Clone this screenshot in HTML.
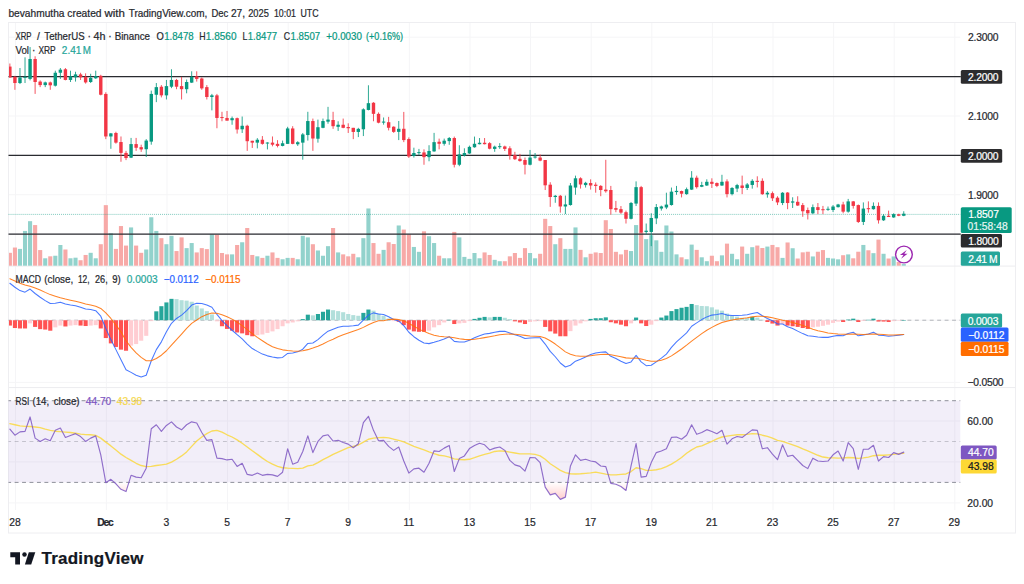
<!DOCTYPE html><html><head><meta charset="utf-8"><title>XRP chart</title><style>html,body{margin:0;padding:0;background:#fff;}body{width:1024px;height:584px;position:relative;overflow:hidden;font-family:"Liberation Sans",sans-serif;}</style></head><body><svg width="1024" height="584" viewBox="0 0 1024 584" style="position:absolute;left:0;top:0" font-family="Liberation Sans, sans-serif">
<rect x="0" y="0" width="1024" height="584" fill="#ffffff"/>
<g stroke="#f5f5f7" stroke-width="1"><line x1="15.47" y1="22.5" x2="15.47" y2="510"/><line x1="106.37" y1="22.5" x2="106.37" y2="510"/><line x1="166.98" y1="22.5" x2="166.98" y2="510"/><line x1="227.58" y1="22.5" x2="227.58" y2="510"/><line x1="288.18" y1="22.5" x2="288.18" y2="510"/><line x1="348.78" y1="22.5" x2="348.78" y2="510"/><line x1="409.39" y1="22.5" x2="409.39" y2="510"/><line x1="469.99" y1="22.5" x2="469.99" y2="510"/><line x1="530.59" y1="22.5" x2="530.59" y2="510"/><line x1="591.19" y1="22.5" x2="591.19" y2="510"/><line x1="651.80" y1="22.5" x2="651.80" y2="510"/><line x1="712.40" y1="22.5" x2="712.40" y2="510"/><line x1="773.00" y1="22.5" x2="773.00" y2="510"/><line x1="833.60" y1="22.5" x2="833.60" y2="510"/><line x1="894.21" y1="22.5" x2="894.21" y2="510"/><line x1="954.81" y1="22.5" x2="954.81" y2="510"/><line x1="8.5" y1="37.23" x2="960.3" y2="37.23"/><line x1="8.5" y1="76.60" x2="960.3" y2="76.60"/><line x1="8.5" y1="115.98" x2="960.3" y2="115.98"/><line x1="8.5" y1="155.35" x2="960.3" y2="155.35"/><line x1="8.5" y1="194.73" x2="960.3" y2="194.73"/><line x1="8.5" y1="234.10" x2="960.3" y2="234.10"/><line x1="8.5" y1="320.2" x2="960.3" y2="320.2"/><line x1="8.5" y1="382.4" x2="960.3" y2="382.4"/><line x1="8.5" y1="421.0" x2="960.3" y2="421.0"/><line x1="8.5" y1="461.9" x2="960.3" y2="461.9"/><line x1="8.5" y1="502.9" x2="960.3" y2="502.9"/></g>
<g stroke="#ececef" stroke-width="1"><line x1="8.5" y1="266.1" x2="1015.5" y2="266.1"/><line x1="8.5" y1="387.6" x2="1015.5" y2="387.6"/></g>
<rect x="8.5" y="22.5" width="1007.0" height="510.5" fill="none" stroke="#eeeef1" stroke-width="1"/>
<rect x="8.5" y="400.7" width="951.8" height="81.69999999999999" fill="#7e57c2" fill-opacity="0.1"/>
<g stroke="#787b86" stroke-width="1" stroke-dasharray="3.9 3.54" stroke-dashoffset="1.3" opacity="0.82"><line x1="8.5" y1="400.7" x2="960.3" y2="400.7"/><line x1="8.5" y1="482.4" x2="960.3" y2="482.4"/></g>
<line x1="8.5" y1="441.5" x2="960.3" y2="441.5" stroke="#787b86" stroke-opacity="0.38" stroke-width="1" stroke-dasharray="3.9 3.54" stroke-dashoffset="1.3"/>
<defs><clipPath id="plot"><rect x="9" y="22" width="951.3" height="490"/></clipPath></defs>
<g clip-path="url(#plot)"><rect x="7.82" y="252.81" width="4.1" height="12.89" fill="#f7a9a7"/><rect x="12.87" y="247.54" width="4.1" height="18.16" fill="#f7a9a7"/><rect x="17.92" y="248.90" width="4.1" height="16.80" fill="#92d2cc"/><rect x="22.97" y="230.93" width="4.1" height="34.77" fill="#92d2cc"/><rect x="28.02" y="221.17" width="4.1" height="44.53" fill="#92d2cc"/><rect x="33.07" y="225.07" width="4.1" height="40.62" fill="#f7a9a7"/><rect x="38.12" y="250.07" width="4.1" height="15.62" fill="#f7a9a7"/><rect x="43.17" y="258.28" width="4.1" height="7.42" fill="#92d2cc"/><rect x="48.22" y="256.32" width="4.1" height="9.38" fill="#f7a9a7"/><rect x="53.27" y="255.74" width="4.1" height="9.96" fill="#92d2cc"/><rect x="58.32" y="245.00" width="4.1" height="20.70" fill="#92d2cc"/><rect x="63.37" y="249.49" width="4.1" height="16.21" fill="#f7a9a7"/><rect x="68.42" y="258.28" width="4.1" height="7.42" fill="#92d2cc"/><rect x="73.47" y="257.69" width="4.1" height="8.01" fill="#92d2cc"/><rect x="78.52" y="260.23" width="4.1" height="5.47" fill="#f7a9a7"/><rect x="83.57" y="254.96" width="4.1" height="10.74" fill="#f7a9a7"/><rect x="88.62" y="252.81" width="4.1" height="12.89" fill="#92d2cc"/><rect x="93.67" y="258.28" width="4.1" height="7.42" fill="#92d2cc"/><rect x="98.72" y="244.22" width="4.1" height="21.48" fill="#f7a9a7"/><rect x="103.77" y="205.15" width="4.1" height="60.55" fill="#f7a9a7"/><rect x="108.82" y="233.28" width="4.1" height="32.42" fill="#92d2cc"/><rect x="113.87" y="248.90" width="4.1" height="16.80" fill="#f7a9a7"/><rect x="118.92" y="226.05" width="4.1" height="39.65" fill="#f7a9a7"/><rect x="123.97" y="245.58" width="4.1" height="20.12" fill="#f7a9a7"/><rect x="129.02" y="227.42" width="4.1" height="38.28" fill="#92d2cc"/><rect x="134.07" y="245.58" width="4.1" height="20.12" fill="#f7a9a7"/><rect x="139.13" y="252.81" width="4.1" height="12.89" fill="#f7a9a7"/><rect x="144.18" y="249.49" width="4.1" height="16.21" fill="#92d2cc"/><rect x="149.23" y="217.26" width="4.1" height="48.44" fill="#92d2cc"/><rect x="154.28" y="230.93" width="4.1" height="34.77" fill="#92d2cc"/><rect x="159.33" y="238.16" width="4.1" height="27.54" fill="#f7a9a7"/><rect x="164.38" y="244.22" width="4.1" height="21.48" fill="#92d2cc"/><rect x="169.43" y="235.82" width="4.1" height="29.88" fill="#92d2cc"/><rect x="174.48" y="251.05" width="4.1" height="14.65" fill="#f7a9a7"/><rect x="179.53" y="237.38" width="4.1" height="28.32" fill="#f7a9a7"/><rect x="184.58" y="248.12" width="4.1" height="17.58" fill="#92d2cc"/><rect x="189.63" y="243.04" width="4.1" height="22.66" fill="#92d2cc"/><rect x="194.68" y="252.42" width="4.1" height="13.28" fill="#f7a9a7"/><rect x="199.73" y="248.12" width="4.1" height="17.58" fill="#f7a9a7"/><rect x="204.78" y="249.10" width="4.1" height="16.60" fill="#f7a9a7"/><rect x="209.83" y="234.45" width="4.1" height="31.25" fill="#92d2cc"/><rect x="214.88" y="234.84" width="4.1" height="30.86" fill="#f7a9a7"/><rect x="219.93" y="253.00" width="4.1" height="12.70" fill="#f7a9a7"/><rect x="224.98" y="254.37" width="4.1" height="11.33" fill="#f7a9a7"/><rect x="230.03" y="254.37" width="4.1" height="11.33" fill="#92d2cc"/><rect x="235.08" y="245.00" width="4.1" height="20.70" fill="#f7a9a7"/><rect x="240.13" y="242.26" width="4.1" height="23.44" fill="#92d2cc"/><rect x="245.18" y="228.00" width="4.1" height="37.70" fill="#f7a9a7"/><rect x="250.23" y="254.96" width="4.1" height="10.74" fill="#f7a9a7"/><rect x="255.28" y="256.32" width="4.1" height="9.38" fill="#92d2cc"/><rect x="260.33" y="257.89" width="4.1" height="7.81" fill="#f7a9a7"/><rect x="265.38" y="255.74" width="4.1" height="9.96" fill="#92d2cc"/><rect x="270.43" y="252.42" width="4.1" height="13.28" fill="#f7a9a7"/><rect x="275.48" y="257.89" width="4.1" height="7.81" fill="#f7a9a7"/><rect x="280.53" y="259.25" width="4.1" height="6.45" fill="#92d2cc"/><rect x="285.58" y="257.89" width="4.1" height="7.81" fill="#92d2cc"/><rect x="290.63" y="257.89" width="4.1" height="7.81" fill="#f7a9a7"/><rect x="295.68" y="259.25" width="4.1" height="6.45" fill="#92d2cc"/><rect x="300.73" y="235.82" width="4.1" height="29.88" fill="#92d2cc"/><rect x="305.78" y="237.38" width="4.1" height="28.32" fill="#92d2cc"/><rect x="310.83" y="244.22" width="4.1" height="21.48" fill="#f7a9a7"/><rect x="315.88" y="250.47" width="4.1" height="15.23" fill="#92d2cc"/><rect x="320.93" y="255.74" width="4.1" height="9.96" fill="#92d2cc"/><rect x="325.98" y="246.17" width="4.1" height="19.53" fill="#92d2cc"/><rect x="331.03" y="228.00" width="4.1" height="37.70" fill="#f7a9a7"/><rect x="336.08" y="252.42" width="4.1" height="13.28" fill="#92d2cc"/><rect x="341.13" y="254.37" width="4.1" height="11.33" fill="#f7a9a7"/><rect x="346.18" y="256.32" width="4.1" height="9.38" fill="#f7a9a7"/><rect x="351.23" y="253.79" width="4.1" height="11.91" fill="#f7a9a7"/><rect x="356.28" y="257.30" width="4.1" height="8.40" fill="#92d2cc"/><rect x="361.33" y="238.16" width="4.1" height="27.54" fill="#92d2cc"/><rect x="366.38" y="208.47" width="4.1" height="57.23" fill="#92d2cc"/><rect x="371.43" y="243.04" width="4.1" height="22.66" fill="#f7a9a7"/><rect x="376.48" y="253.79" width="4.1" height="11.91" fill="#f7a9a7"/><rect x="381.53" y="249.88" width="4.1" height="15.82" fill="#92d2cc"/><rect x="386.59" y="242.26" width="4.1" height="23.44" fill="#f7a9a7"/><rect x="391.64" y="244.02" width="4.1" height="21.68" fill="#f7a9a7"/><rect x="396.69" y="225.47" width="4.1" height="40.23" fill="#92d2cc"/><rect x="401.74" y="229.57" width="4.1" height="36.13" fill="#f7a9a7"/><rect x="406.79" y="234.45" width="4.1" height="31.25" fill="#f7a9a7"/><rect x="411.84" y="246.95" width="4.1" height="18.75" fill="#92d2cc"/><rect x="416.89" y="251.83" width="4.1" height="13.87" fill="#92d2cc"/><rect x="421.94" y="231.32" width="4.1" height="34.38" fill="#f7a9a7"/><rect x="426.99" y="236.21" width="4.1" height="29.49" fill="#92d2cc"/><rect x="432.04" y="243.04" width="4.1" height="22.66" fill="#92d2cc"/><rect x="437.09" y="255.74" width="4.1" height="9.96" fill="#f7a9a7"/><rect x="442.14" y="258.28" width="4.1" height="7.42" fill="#92d2cc"/><rect x="447.19" y="258.28" width="4.1" height="7.42" fill="#92d2cc"/><rect x="452.24" y="231.91" width="4.1" height="33.79" fill="#f7a9a7"/><rect x="457.29" y="237.38" width="4.1" height="28.32" fill="#92d2cc"/><rect x="462.34" y="256.91" width="4.1" height="8.79" fill="#92d2cc"/><rect x="467.39" y="258.86" width="4.1" height="6.84" fill="#92d2cc"/><rect x="472.44" y="253.00" width="4.1" height="12.70" fill="#92d2cc"/><rect x="477.49" y="258.28" width="4.1" height="7.42" fill="#92d2cc"/><rect x="482.54" y="252.42" width="4.1" height="13.28" fill="#f7a9a7"/><rect x="487.59" y="254.96" width="4.1" height="10.74" fill="#f7a9a7"/><rect x="492.64" y="259.84" width="4.1" height="5.86" fill="#92d2cc"/><rect x="497.69" y="261.21" width="4.1" height="4.49" fill="#92d2cc"/><rect x="502.74" y="261.21" width="4.1" height="4.49" fill="#f7a9a7"/><rect x="507.79" y="256.32" width="4.1" height="9.38" fill="#f7a9a7"/><rect x="512.84" y="253.00" width="4.1" height="12.70" fill="#f7a9a7"/><rect x="517.89" y="257.89" width="4.1" height="7.81" fill="#f7a9a7"/><rect x="522.94" y="248.12" width="4.1" height="17.58" fill="#f7a9a7"/><rect x="527.99" y="253.00" width="4.1" height="12.70" fill="#92d2cc"/><rect x="533.04" y="258.28" width="4.1" height="7.42" fill="#92d2cc"/><rect x="538.09" y="253.79" width="4.1" height="11.91" fill="#f7a9a7"/><rect x="543.14" y="218.82" width="4.1" height="46.88" fill="#f7a9a7"/><rect x="548.19" y="226.05" width="4.1" height="39.65" fill="#f7a9a7"/><rect x="553.24" y="244.22" width="4.1" height="21.48" fill="#92d2cc"/><rect x="558.29" y="238.16" width="4.1" height="27.54" fill="#f7a9a7"/><rect x="563.34" y="248.90" width="4.1" height="16.80" fill="#92d2cc"/><rect x="568.39" y="248.90" width="4.1" height="16.80" fill="#92d2cc"/><rect x="573.44" y="227.42" width="4.1" height="38.28" fill="#92d2cc"/><rect x="578.49" y="249.88" width="4.1" height="15.82" fill="#f7a9a7"/><rect x="583.54" y="257.30" width="4.1" height="8.40" fill="#92d2cc"/><rect x="588.59" y="253.79" width="4.1" height="11.91" fill="#f7a9a7"/><rect x="593.64" y="252.42" width="4.1" height="13.28" fill="#f7a9a7"/><rect x="598.69" y="253.00" width="4.1" height="12.70" fill="#f7a9a7"/><rect x="603.74" y="220.19" width="4.1" height="45.51" fill="#f7a9a7"/><rect x="608.79" y="228.98" width="4.1" height="36.72" fill="#f7a9a7"/><rect x="613.84" y="251.83" width="4.1" height="13.87" fill="#f7a9a7"/><rect x="618.89" y="254.37" width="4.1" height="11.33" fill="#f7a9a7"/><rect x="623.94" y="249.88" width="4.1" height="15.82" fill="#f7a9a7"/><rect x="628.99" y="251.05" width="4.1" height="14.65" fill="#92d2cc"/><rect x="634.04" y="225.07" width="4.1" height="40.62" fill="#92d2cc"/><rect x="639.10" y="231.91" width="4.1" height="33.79" fill="#f7a9a7"/><rect x="644.15" y="239.14" width="4.1" height="26.56" fill="#92d2cc"/><rect x="649.20" y="235.23" width="4.1" height="30.47" fill="#92d2cc"/><rect x="654.25" y="240.31" width="4.1" height="25.39" fill="#92d2cc"/><rect x="659.30" y="251.83" width="4.1" height="13.87" fill="#92d2cc"/><rect x="664.35" y="225.47" width="4.1" height="40.23" fill="#92d2cc"/><rect x="669.40" y="231.52" width="4.1" height="34.18" fill="#92d2cc"/><rect x="674.45" y="254.37" width="4.1" height="11.33" fill="#92d2cc"/><rect x="679.50" y="257.30" width="4.1" height="8.40" fill="#f7a9a7"/><rect x="684.55" y="259.25" width="4.1" height="6.45" fill="#92d2cc"/><rect x="689.60" y="244.61" width="4.1" height="21.09" fill="#92d2cc"/><rect x="694.65" y="249.88" width="4.1" height="15.82" fill="#f7a9a7"/><rect x="699.70" y="257.30" width="4.1" height="8.40" fill="#92d2cc"/><rect x="704.75" y="261.21" width="4.1" height="4.49" fill="#92d2cc"/><rect x="709.80" y="255.74" width="4.1" height="9.96" fill="#f7a9a7"/><rect x="714.85" y="261.21" width="4.1" height="4.49" fill="#f7a9a7"/><rect x="719.90" y="255.35" width="4.1" height="10.35" fill="#92d2cc"/><rect x="724.95" y="243.63" width="4.1" height="22.07" fill="#f7a9a7"/><rect x="730.00" y="253.79" width="4.1" height="11.91" fill="#92d2cc"/><rect x="735.05" y="259.25" width="4.1" height="6.45" fill="#92d2cc"/><rect x="740.10" y="246.56" width="4.1" height="19.14" fill="#f7a9a7"/><rect x="745.15" y="253.79" width="4.1" height="11.91" fill="#92d2cc"/><rect x="750.20" y="247.20" width="4.1" height="18.50" fill="#92d2cc"/><rect x="755.25" y="245.56" width="4.1" height="20.14" fill="#f7a9a7"/><rect x="760.30" y="248.02" width="4.1" height="17.68" fill="#f7a9a7"/><rect x="765.35" y="246.58" width="4.1" height="19.12" fill="#92d2cc"/><rect x="770.40" y="244.94" width="4.1" height="20.76" fill="#f7a9a7"/><rect x="775.45" y="247.20" width="4.1" height="18.50" fill="#f7a9a7"/><rect x="780.50" y="257.89" width="4.1" height="7.81" fill="#92d2cc"/><rect x="785.55" y="242.47" width="4.1" height="23.23" fill="#f7a9a7"/><rect x="790.60" y="248.23" width="4.1" height="17.47" fill="#92d2cc"/><rect x="795.65" y="258.51" width="4.1" height="7.19" fill="#f7a9a7"/><rect x="800.70" y="252.34" width="4.1" height="13.36" fill="#f7a9a7"/><rect x="805.75" y="251.72" width="4.1" height="13.98" fill="#f7a9a7"/><rect x="810.80" y="256.45" width="4.1" height="9.25" fill="#92d2cc"/><rect x="815.85" y="251.72" width="4.1" height="13.98" fill="#f7a9a7"/><rect x="820.90" y="250.08" width="4.1" height="15.62" fill="#f7a9a7"/><rect x="825.95" y="257.89" width="4.1" height="7.81" fill="#92d2cc"/><rect x="831.00" y="258.51" width="4.1" height="7.19" fill="#92d2cc"/><rect x="836.05" y="259.33" width="4.1" height="6.37" fill="#92d2cc"/><rect x="841.10" y="255.22" width="4.1" height="10.48" fill="#f7a9a7"/><rect x="846.15" y="254.39" width="4.1" height="11.31" fill="#92d2cc"/><rect x="851.20" y="258.30" width="4.1" height="7.40" fill="#f7a9a7"/><rect x="856.25" y="251.72" width="4.1" height="13.98" fill="#f7a9a7"/><rect x="861.30" y="244.94" width="4.1" height="20.76" fill="#92d2cc"/><rect x="866.35" y="250.28" width="4.1" height="15.42" fill="#f7a9a7"/><rect x="871.40" y="253.16" width="4.1" height="12.54" fill="#92d2cc"/><rect x="876.45" y="239.60" width="4.1" height="26.10" fill="#f7a9a7"/><rect x="881.50" y="253.78" width="4.1" height="11.92" fill="#92d2cc"/><rect x="886.55" y="258.51" width="4.1" height="7.19" fill="#f7a9a7"/><rect x="891.61" y="256.45" width="4.1" height="9.25" fill="#92d2cc"/><rect x="896.66" y="262.00" width="4.1" height="3.70" fill="#f7a9a7"/><rect x="901.71" y="264.06" width="4.1" height="1.64" fill="#92d2cc"/></g>
<line x1="8.5" y1="76.60" x2="960.8" y2="76.60" stroke="#2a2b30" stroke-width="1.35"/>
<line x1="8.5" y1="155.35" x2="960.8" y2="155.35" stroke="#2a2b30" stroke-width="1.35"/>
<line x1="8.5" y1="234.10" x2="960.8" y2="234.10" stroke="#2a2b30" stroke-width="1.35"/>
<line x1="8.5" y1="214.4" x2="960.3" y2="214.4" stroke="#089981" stroke-width="1" stroke-dasharray="1 1.02" opacity="0.5"/>
<g stroke-width="0.85"><line x1="9.87" y1="63.50" x2="9.87" y2="77.48" stroke="#f23645"/><line x1="14.92" y1="75.83" x2="14.92" y2="89.81" stroke="#f23645"/><line x1="19.97" y1="68.02" x2="19.97" y2="84.05" stroke="#089981"/><line x1="25.02" y1="57.33" x2="25.02" y2="83.03" stroke="#089981"/><line x1="30.07" y1="47.06" x2="30.07" y2="80.35" stroke="#089981"/><line x1="35.12" y1="56.31" x2="35.12" y2="93.92" stroke="#f23645"/><line x1="40.17" y1="80.35" x2="40.17" y2="87.14" stroke="#f23645"/><line x1="45.22" y1="81.59" x2="45.22" y2="87.14" stroke="#089981"/><line x1="50.27" y1="81.59" x2="50.27" y2="89.81" stroke="#f23645"/><line x1="55.32" y1="70.69" x2="55.32" y2="86.52" stroke="#089981"/><line x1="60.37" y1="68.02" x2="60.37" y2="78.92" stroke="#089981"/><line x1="65.42" y1="68.02" x2="65.42" y2="80.35" stroke="#f23645"/><line x1="70.47" y1="70.69" x2="70.47" y2="82.00" stroke="#089981"/><line x1="75.52" y1="71.72" x2="75.52" y2="81.59" stroke="#089981"/><line x1="80.57" y1="72.75" x2="80.57" y2="79.94" stroke="#f23645"/><line x1="85.62" y1="73.37" x2="85.62" y2="83.64" stroke="#f23645"/><line x1="90.67" y1="73.78" x2="90.67" y2="83.03" stroke="#089981"/><line x1="95.72" y1="70.69" x2="95.72" y2="78.92" stroke="#089981"/><line x1="100.77" y1="74.80" x2="100.77" y2="95.36" stroke="#f23645"/><line x1="105.82" y1="92.28" x2="105.82" y2="139.14" stroke="#f23645"/><line x1="110.87" y1="132.98" x2="110.87" y2="148.80" stroke="#089981"/><line x1="115.92" y1="131.74" x2="115.92" y2="143.66" stroke="#f23645"/><line x1="120.97" y1="136.47" x2="120.97" y2="161.75" stroke="#f23645"/><line x1="126.02" y1="150.86" x2="126.02" y2="160.11" stroke="#f23645"/><line x1="131.07" y1="137.91" x2="131.07" y2="158.05" stroke="#089981"/><line x1="136.12" y1="137.91" x2="136.12" y2="150.86" stroke="#f23645"/><line x1="141.18" y1="144.69" x2="141.18" y2="151.89" stroke="#f23645"/><line x1="146.23" y1="139.14" x2="146.23" y2="157.02" stroke="#089981"/><line x1="151.28" y1="90.63" x2="151.28" y2="144.69" stroke="#089981"/><line x1="156.33" y1="83.03" x2="156.33" y2="102.14" stroke="#089981"/><line x1="161.38" y1="85.08" x2="161.38" y2="97.42" stroke="#f23645"/><line x1="166.43" y1="79.94" x2="166.43" y2="99.47" stroke="#089981"/><line x1="171.48" y1="69.25" x2="171.48" y2="88.17" stroke="#089981"/><line x1="176.53" y1="78.92" x2="176.53" y2="89.19" stroke="#f23645"/><line x1="181.58" y1="76.86" x2="181.58" y2="99.47" stroke="#f23645"/><line x1="186.63" y1="79.53" x2="186.63" y2="93.30" stroke="#089981"/><line x1="191.68" y1="71.31" x2="191.68" y2="83.02" stroke="#089981"/><line x1="196.73" y1="71.31" x2="196.73" y2="81.58" stroke="#f23645"/><line x1="201.78" y1="77.47" x2="201.78" y2="89.80" stroke="#f23645"/><line x1="206.83" y1="85.08" x2="206.83" y2="99.47" stroke="#f23645"/><line x1="211.88" y1="93.92" x2="211.88" y2="110.36" stroke="#089981"/><line x1="216.93" y1="93.92" x2="216.93" y2="128.24" stroke="#f23645"/><line x1="221.98" y1="111.80" x2="221.98" y2="121.25" stroke="#f23645"/><line x1="227.03" y1="110.98" x2="227.03" y2="120.64" stroke="#f23645"/><line x1="232.08" y1="116.53" x2="232.08" y2="124.75" stroke="#089981"/><line x1="237.13" y1="117.55" x2="237.13" y2="133.59" stroke="#f23645"/><line x1="242.18" y1="116.53" x2="242.18" y2="132.97" stroke="#089981"/><line x1="247.23" y1="124.75" x2="247.23" y2="150.85" stroke="#f23645"/><line x1="252.28" y1="140.78" x2="252.28" y2="147.98" stroke="#f23645"/><line x1="257.33" y1="138.11" x2="257.33" y2="148.39" stroke="#089981"/><line x1="262.38" y1="136.05" x2="262.38" y2="144.69" stroke="#f23645"/><line x1="267.43" y1="142.22" x2="267.43" y2="149.41" stroke="#089981"/><line x1="272.48" y1="136.46" x2="272.48" y2="146.33" stroke="#f23645"/><line x1="277.53" y1="140.16" x2="277.53" y2="147.36" stroke="#f23645"/><line x1="282.58" y1="140.58" x2="282.58" y2="146.33" stroke="#089981"/><line x1="287.63" y1="126.80" x2="287.63" y2="143.86" stroke="#089981"/><line x1="292.68" y1="126.19" x2="292.68" y2="144.28" stroke="#f23645"/><line x1="297.73" y1="141.19" x2="297.73" y2="145.92" stroke="#089981"/><line x1="302.78" y1="132.97" x2="302.78" y2="159.69" stroke="#089981"/><line x1="307.83" y1="111.80" x2="307.83" y2="140.58" stroke="#089981"/><line x1="312.88" y1="118.58" x2="312.88" y2="150.85" stroke="#f23645"/><line x1="317.93" y1="119.61" x2="317.93" y2="142.63" stroke="#089981"/><line x1="322.98" y1="118.58" x2="322.98" y2="128.24" stroke="#089981"/><line x1="328.03" y1="106.87" x2="328.03" y2="123.72" stroke="#089981"/><line x1="333.08" y1="111.80" x2="333.08" y2="128.86" stroke="#f23645"/><line x1="338.13" y1="121.25" x2="338.13" y2="130.91" stroke="#089981"/><line x1="343.18" y1="118.58" x2="343.18" y2="128.24" stroke="#f23645"/><line x1="348.23" y1="123.31" x2="348.23" y2="132.97" stroke="#f23645"/><line x1="353.28" y1="127.83" x2="353.28" y2="139.14" stroke="#f23645"/><line x1="358.33" y1="127.83" x2="358.33" y2="137.08" stroke="#089981"/><line x1="363.38" y1="108.30" x2="363.38" y2="136.05" stroke="#089981"/><line x1="368.43" y1="85.28" x2="368.43" y2="110.36" stroke="#089981"/><line x1="373.48" y1="102.14" x2="373.48" y2="121.25" stroke="#f23645"/><line x1="378.53" y1="112.42" x2="378.53" y2="123.31" stroke="#f23645"/><line x1="383.58" y1="117.47" x2="383.58" y2="124.67" stroke="#089981"/><line x1="388.64" y1="116.86" x2="388.64" y2="130.42" stroke="#f23645"/><line x1="393.69" y1="126.31" x2="393.69" y2="132.89" stroke="#f23645"/><line x1="398.74" y1="120.97" x2="398.74" y2="140.08" stroke="#089981"/><line x1="403.79" y1="111.92" x2="403.79" y2="142.14" stroke="#f23645"/><line x1="408.84" y1="137.41" x2="408.84" y2="157.97" stroke="#f23645"/><line x1="413.89" y1="147.69" x2="413.89" y2="157.55" stroke="#089981"/><line x1="418.94" y1="148.92" x2="418.94" y2="155.09" stroke="#089981"/><line x1="423.99" y1="149.33" x2="423.99" y2="164.75" stroke="#f23645"/><line x1="429.04" y1="145.22" x2="429.04" y2="161.25" stroke="#089981"/><line x1="434.09" y1="132.89" x2="434.09" y2="151.80" stroke="#089981"/><line x1="439.14" y1="138.64" x2="439.14" y2="149.33" stroke="#f23645"/><line x1="444.19" y1="138.64" x2="444.19" y2="145.63" stroke="#089981"/><line x1="449.24" y1="137.00" x2="449.24" y2="144.81" stroke="#089981"/><line x1="454.29" y1="136.59" x2="454.29" y2="167.42" stroke="#f23645"/><line x1="459.34" y1="145.22" x2="459.34" y2="166.19" stroke="#089981"/><line x1="464.39" y1="148.30" x2="464.39" y2="156.53" stroke="#089981"/><line x1="469.44" y1="145.63" x2="469.44" y2="153.85" stroke="#089981"/><line x1="474.49" y1="136.59" x2="474.49" y2="147.69" stroke="#089981"/><line x1="479.54" y1="138.03" x2="479.54" y2="144.40" stroke="#089981"/><line x1="484.59" y1="138.03" x2="484.59" y2="144.40" stroke="#f23645"/><line x1="489.64" y1="142.14" x2="489.64" y2="149.33" stroke="#f23645"/><line x1="494.69" y1="145.63" x2="494.69" y2="151.80" stroke="#089981"/><line x1="499.74" y1="143.17" x2="499.74" y2="148.92" stroke="#089981"/><line x1="504.79" y1="145.63" x2="504.79" y2="150.98" stroke="#f23645"/><line x1="509.84" y1="146.25" x2="509.84" y2="159.61" stroke="#f23645"/><line x1="514.89" y1="151.80" x2="514.89" y2="160.02" stroke="#f23645"/><line x1="519.94" y1="153.85" x2="519.94" y2="161.66" stroke="#f23645"/><line x1="524.99" y1="157.55" x2="524.99" y2="174.41" stroke="#f23645"/><line x1="530.04" y1="149.95" x2="530.04" y2="165.36" stroke="#089981"/><line x1="535.09" y1="153.03" x2="535.09" y2="158.58" stroke="#089981"/><line x1="540.14" y1="154.47" x2="540.14" y2="161.25" stroke="#f23645"/><line x1="545.19" y1="160.02" x2="545.19" y2="190.03" stroke="#f23645"/><line x1="550.24" y1="182.22" x2="550.24" y2="206.89" stroke="#f23645"/><line x1="555.29" y1="194.96" x2="555.29" y2="202.77" stroke="#089981"/><line x1="560.34" y1="194.96" x2="560.34" y2="212.64" stroke="#f23645"/><line x1="565.39" y1="195.58" x2="565.39" y2="214.08" stroke="#089981"/><line x1="570.44" y1="183.03" x2="570.44" y2="205.64" stroke="#089981"/><line x1="575.49" y1="175.63" x2="575.49" y2="194.75" stroke="#089981"/><line x1="580.54" y1="177.28" x2="580.54" y2="188.58" stroke="#f23645"/><line x1="585.59" y1="181.80" x2="585.59" y2="187.55" stroke="#089981"/><line x1="590.64" y1="179.33" x2="590.64" y2="189.61" stroke="#f23645"/><line x1="595.69" y1="182.42" x2="595.69" y2="192.69" stroke="#f23645"/><line x1="600.74" y1="185.09" x2="600.74" y2="196.19" stroke="#f23645"/><line x1="605.79" y1="159.80" x2="605.79" y2="192.69" stroke="#f23645"/><line x1="610.84" y1="185.91" x2="610.84" y2="214.69" stroke="#f23645"/><line x1="615.89" y1="200.91" x2="615.89" y2="212.22" stroke="#f23645"/><line x1="620.94" y1="206.05" x2="620.94" y2="213.86" stroke="#f23645"/><line x1="625.99" y1="210.58" x2="625.99" y2="223.53" stroke="#f23645"/><line x1="631.04" y1="201.94" x2="631.04" y2="219.41" stroke="#089981"/><line x1="636.09" y1="181.39" x2="636.09" y2="206.05" stroke="#089981"/><line x1="641.14" y1="185.91" x2="641.14" y2="233.19" stroke="#f23645"/><line x1="646.20" y1="223.53" x2="646.20" y2="234.42" stroke="#089981"/><line x1="651.25" y1="213.25" x2="651.25" y2="246.14" stroke="#089981"/><line x1="656.30" y1="204.00" x2="656.30" y2="224.14" stroke="#089981"/><line x1="661.35" y1="205.64" x2="661.35" y2="210.58" stroke="#089981"/><line x1="666.40" y1="192.69" x2="666.40" y2="209.14" stroke="#089981"/><line x1="671.45" y1="187.55" x2="671.45" y2="205.64" stroke="#089981"/><line x1="676.50" y1="185.91" x2="676.50" y2="194.75" stroke="#089981"/><line x1="681.55" y1="190.64" x2="681.55" y2="197.42" stroke="#f23645"/><line x1="686.60" y1="187.55" x2="686.60" y2="194.75" stroke="#089981"/><line x1="691.65" y1="171.11" x2="691.65" y2="190.02" stroke="#089981"/><line x1="696.70" y1="175.63" x2="696.70" y2="188.58" stroke="#f23645"/><line x1="701.75" y1="181.80" x2="701.75" y2="187.14" stroke="#089981"/><line x1="706.80" y1="179.33" x2="706.80" y2="185.91" stroke="#089981"/><line x1="711.85" y1="178.30" x2="711.85" y2="187.97" stroke="#f23645"/><line x1="716.90" y1="182.42" x2="716.90" y2="187.14" stroke="#f23645"/><line x1="721.95" y1="174.81" x2="721.95" y2="185.91" stroke="#089981"/><line x1="727.00" y1="179.33" x2="727.00" y2="197.42" stroke="#f23645"/><line x1="732.05" y1="187.14" x2="732.05" y2="195.36" stroke="#089981"/><line x1="737.10" y1="183.85" x2="737.10" y2="192.08" stroke="#089981"/><line x1="742.15" y1="175.63" x2="742.15" y2="194.13" stroke="#f23645"/><line x1="747.20" y1="183.03" x2="747.20" y2="190.02" stroke="#089981"/><line x1="752.25" y1="179.19" x2="752.25" y2="188.64" stroke="#089981"/><line x1="757.30" y1="176.31" x2="757.30" y2="187.41" stroke="#f23645"/><line x1="762.35" y1="178.37" x2="762.35" y2="194.81" stroke="#f23645"/><line x1="767.40" y1="191.11" x2="767.40" y2="197.69" stroke="#089981"/><line x1="772.45" y1="191.52" x2="772.45" y2="200.98" stroke="#f23645"/><line x1="777.50" y1="196.25" x2="777.50" y2="205.09" stroke="#f23645"/><line x1="782.55" y1="192.14" x2="782.55" y2="205.09" stroke="#089981"/><line x1="787.60" y1="192.14" x2="787.60" y2="209.20" stroke="#f23645"/><line x1="792.65" y1="197.28" x2="792.65" y2="207.97" stroke="#089981"/><line x1="797.70" y1="196.25" x2="797.70" y2="205.91" stroke="#f23645"/><line x1="802.75" y1="203.03" x2="802.75" y2="216.80" stroke="#f23645"/><line x1="807.80" y1="207.55" x2="807.80" y2="219.48" stroke="#f23645"/><line x1="812.85" y1="204.47" x2="812.85" y2="214.13" stroke="#089981"/><line x1="817.90" y1="203.03" x2="817.90" y2="214.13" stroke="#f23645"/><line x1="822.95" y1="205.91" x2="822.95" y2="214.13" stroke="#f23645"/><line x1="828.00" y1="206.53" x2="828.00" y2="210.84" stroke="#089981"/><line x1="833.05" y1="205.09" x2="833.05" y2="212.08" stroke="#089981"/><line x1="838.10" y1="203.85" x2="838.10" y2="207.55" stroke="#089981"/><line x1="843.15" y1="201.80" x2="843.15" y2="213.31" stroke="#f23645"/><line x1="848.20" y1="198.92" x2="848.20" y2="212.69" stroke="#089981"/><line x1="853.25" y1="200.98" x2="853.25" y2="208.58" stroke="#f23645"/><line x1="858.30" y1="204.47" x2="858.30" y2="222.97" stroke="#f23645"/><line x1="863.35" y1="202.42" x2="863.35" y2="225.03" stroke="#089981"/><line x1="868.40" y1="201.39" x2="868.40" y2="212.69" stroke="#f23645"/><line x1="873.45" y1="202.42" x2="873.45" y2="209.61" stroke="#089981"/><line x1="878.50" y1="202.42" x2="878.50" y2="223.59" stroke="#f23645"/><line x1="883.55" y1="214.13" x2="883.55" y2="220.91" stroke="#089981"/><line x1="888.60" y1="210.64" x2="888.60" y2="217.01" stroke="#f23645"/><line x1="893.66" y1="213.31" x2="893.66" y2="217.83" stroke="#089981"/><line x1="898.71" y1="213.72" x2="898.71" y2="216.19" stroke="#f23645"/><line x1="903.76" y1="211.25" x2="903.76" y2="216.19" stroke="#089981"/></g>
<g clip-path="url(#plot)"><rect x="8.17" y="66.58" width="3.4" height="10.89" fill="#f23645"/><rect x="13.22" y="76.86" width="3.4" height="6.17" fill="#f23645"/><rect x="18.27" y="77.48" width="3.4" height="5.55" fill="#089981"/><rect x="23.32" y="76.86" width="3.4" height="1.03" fill="#089981"/><rect x="28.37" y="58.98" width="3.4" height="19.94" fill="#089981"/><rect x="33.42" y="58.98" width="3.4" height="23.02" fill="#f23645"/><rect x="38.47" y="81.59" width="3.4" height="3.49" fill="#f23645"/><rect x="43.52" y="82.41" width="3.4" height="2.67" fill="#089981"/><rect x="48.57" y="82.41" width="3.4" height="2.88" fill="#f23645"/><rect x="53.62" y="72.75" width="3.4" height="12.95" fill="#089981"/><rect x="58.67" y="69.67" width="3.4" height="3.08" fill="#089981"/><rect x="63.72" y="69.25" width="3.4" height="10.69" fill="#f23645"/><rect x="68.77" y="76.24" width="3.4" height="3.70" fill="#089981"/><rect x="73.82" y="74.39" width="3.4" height="2.88" fill="#089981"/><rect x="78.87" y="74.39" width="3.4" height="2.88" fill="#f23645"/><rect x="83.92" y="76.86" width="3.4" height="5.55" fill="#f23645"/><rect x="88.97" y="77.89" width="3.4" height="4.11" fill="#089981"/><rect x="94.02" y="76.24" width="3.4" height="2.06" fill="#089981"/><rect x="99.07" y="75.83" width="3.4" height="18.91" fill="#f23645"/><rect x="104.12" y="93.92" width="3.4" height="42.55" fill="#f23645"/><rect x="109.17" y="133.39" width="3.4" height="3.08" fill="#089981"/><rect x="114.22" y="132.98" width="3.4" height="9.66" fill="#f23645"/><rect x="119.27" y="142.02" width="3.4" height="10.89" fill="#f23645"/><rect x="124.32" y="152.91" width="3.4" height="5.14" fill="#f23645"/><rect x="129.37" y="144.08" width="3.4" height="13.57" fill="#089981"/><rect x="134.43" y="144.08" width="3.4" height="3.70" fill="#f23645"/><rect x="139.48" y="147.16" width="3.4" height="2.26" fill="#f23645"/><rect x="144.53" y="140.58" width="3.4" height="8.63" fill="#089981"/><rect x="149.58" y="93.92" width="3.4" height="47.69" fill="#089981"/><rect x="154.63" y="87.14" width="3.4" height="7.61" fill="#089981"/><rect x="159.68" y="86.73" width="3.4" height="8.63" fill="#f23645"/><rect x="164.73" y="86.11" width="3.4" height="9.25" fill="#089981"/><rect x="169.78" y="79.94" width="3.4" height="6.78" fill="#089981"/><rect x="174.83" y="79.94" width="3.4" height="6.78" fill="#f23645"/><rect x="179.88" y="86.11" width="3.4" height="3.08" fill="#f23645"/><rect x="184.93" y="82.00" width="3.4" height="7.19" fill="#089981"/><rect x="189.98" y="76.86" width="3.4" height="5.76" fill="#089981"/><rect x="195.03" y="76.44" width="3.4" height="2.47" fill="#f23645"/><rect x="200.08" y="78.50" width="3.4" height="9.87" fill="#f23645"/><rect x="205.13" y="87.13" width="3.4" height="9.87" fill="#f23645"/><rect x="210.18" y="95.35" width="3.4" height="1.64" fill="#089981"/><rect x="215.23" y="95.35" width="3.4" height="22.61" fill="#f23645"/><rect x="220.28" y="117.05" width="3.4" height="1.00" fill="#f23645"/><rect x="225.33" y="117.97" width="3.4" height="2.67" fill="#f23645"/><rect x="230.38" y="118.17" width="3.4" height="2.06" fill="#089981"/><rect x="235.43" y="118.17" width="3.4" height="11.31" fill="#f23645"/><rect x="240.48" y="125.78" width="3.4" height="3.49" fill="#089981"/><rect x="245.53" y="125.78" width="3.4" height="15.42" fill="#f23645"/><rect x="250.58" y="140.78" width="3.4" height="1.85" fill="#f23645"/><rect x="255.63" y="139.75" width="3.4" height="2.88" fill="#089981"/><rect x="260.68" y="139.75" width="3.4" height="4.11" fill="#f23645"/><rect x="265.73" y="142.54" width="3.4" height="1.00" fill="#089981"/><rect x="270.78" y="142.63" width="3.4" height="2.06" fill="#f23645"/><rect x="275.83" y="143.86" width="3.4" height="2.06" fill="#f23645"/><rect x="280.88" y="143.25" width="3.4" height="2.67" fill="#089981"/><rect x="285.93" y="128.45" width="3.4" height="15.42" fill="#089981"/><rect x="290.98" y="128.45" width="3.4" height="15.42" fill="#f23645"/><rect x="296.03" y="142.22" width="3.4" height="2.06" fill="#089981"/><rect x="301.08" y="134.41" width="3.4" height="8.22" fill="#089981"/><rect x="306.13" y="121.05" width="3.4" height="13.98" fill="#089981"/><rect x="311.18" y="121.05" width="3.4" height="17.47" fill="#f23645"/><rect x="316.23" y="127.21" width="3.4" height="11.51" fill="#089981"/><rect x="321.28" y="121.05" width="3.4" height="6.78" fill="#089981"/><rect x="326.33" y="119.61" width="3.4" height="2.06" fill="#089981"/><rect x="331.38" y="120.02" width="3.4" height="6.17" fill="#f23645"/><rect x="336.43" y="124.75" width="3.4" height="2.06" fill="#089981"/><rect x="341.48" y="124.75" width="3.4" height="3.08" fill="#f23645"/><rect x="346.53" y="127.01" width="3.4" height="1.23" fill="#f23645"/><rect x="351.58" y="127.83" width="3.4" height="4.11" fill="#f23645"/><rect x="356.63" y="128.86" width="3.4" height="3.08" fill="#089981"/><rect x="361.68" y="109.33" width="3.4" height="19.94" fill="#089981"/><rect x="366.73" y="103.17" width="3.4" height="6.78" fill="#089981"/><rect x="371.78" y="102.75" width="3.4" height="11.10" fill="#f23645"/><rect x="376.83" y="113.85" width="3.4" height="8.84" fill="#f23645"/><rect x="381.88" y="121.58" width="3.4" height="1.03" fill="#089981"/><rect x="386.94" y="122.20" width="3.4" height="5.55" fill="#f23645"/><rect x="391.99" y="126.72" width="3.4" height="5.14" fill="#f23645"/><rect x="397.04" y="128.78" width="3.4" height="3.08" fill="#089981"/><rect x="402.09" y="128.78" width="3.4" height="11.31" fill="#f23645"/><rect x="407.14" y="139.05" width="3.4" height="17.47" fill="#f23645"/><rect x="412.19" y="153.03" width="3.4" height="2.88" fill="#089981"/><rect x="417.24" y="152.12" width="3.4" height="1.00" fill="#089981"/><rect x="422.29" y="152.42" width="3.4" height="4.73" fill="#f23645"/><rect x="427.34" y="150.98" width="3.4" height="6.17" fill="#089981"/><rect x="432.39" y="142.14" width="3.4" height="9.25" fill="#089981"/><rect x="437.44" y="141.73" width="3.4" height="2.06" fill="#f23645"/><rect x="442.49" y="140.70" width="3.4" height="3.08" fill="#089981"/><rect x="447.54" y="138.03" width="3.4" height="3.08" fill="#089981"/><rect x="452.59" y="138.03" width="3.4" height="26.72" fill="#f23645"/><rect x="457.64" y="154.47" width="3.4" height="10.28" fill="#089981"/><rect x="462.69" y="153.03" width="3.4" height="2.47" fill="#089981"/><rect x="467.74" y="146.87" width="3.4" height="6.58" fill="#089981"/><rect x="472.79" y="143.78" width="3.4" height="3.49" fill="#089981"/><rect x="477.84" y="142.75" width="3.4" height="1.44" fill="#089981"/><rect x="482.89" y="142.75" width="3.4" height="1.44" fill="#f23645"/><rect x="487.94" y="143.17" width="3.4" height="5.55" fill="#f23645"/><rect x="492.99" y="146.66" width="3.4" height="2.26" fill="#089981"/><rect x="498.04" y="146.16" width="3.4" height="1.00" fill="#089981"/><rect x="503.09" y="146.45" width="3.4" height="2.47" fill="#f23645"/><rect x="508.14" y="148.30" width="3.4" height="7.19" fill="#f23645"/><rect x="513.19" y="155.09" width="3.4" height="4.11" fill="#f23645"/><rect x="518.24" y="158.79" width="3.4" height="2.26" fill="#f23645"/><rect x="523.29" y="160.02" width="3.4" height="4.73" fill="#f23645"/><rect x="528.34" y="157.55" width="3.4" height="7.19" fill="#089981"/><rect x="533.39" y="156.53" width="3.4" height="1.03" fill="#089981"/><rect x="538.44" y="157.55" width="3.4" height="3.08" fill="#f23645"/><rect x="543.49" y="160.02" width="3.4" height="25.28" fill="#f23645"/><rect x="548.54" y="184.69" width="3.4" height="12.33" fill="#f23645"/><rect x="553.59" y="195.79" width="3.4" height="1.23" fill="#089981"/><rect x="558.64" y="195.79" width="3.4" height="10.69" fill="#f23645"/><rect x="563.69" y="204.42" width="3.4" height="2.06" fill="#089981"/><rect x="568.74" y="185.50" width="3.4" height="19.53" fill="#089981"/><rect x="573.79" y="178.30" width="3.4" height="9.25" fill="#089981"/><rect x="578.84" y="178.30" width="3.4" height="6.17" fill="#f23645"/><rect x="583.89" y="182.83" width="3.4" height="2.26" fill="#089981"/><rect x="588.94" y="183.03" width="3.4" height="2.47" fill="#f23645"/><rect x="593.99" y="184.68" width="3.4" height="1.23" fill="#f23645"/><rect x="599.04" y="185.91" width="3.4" height="4.11" fill="#f23645"/><rect x="604.09" y="189.61" width="3.4" height="1.64" fill="#f23645"/><rect x="609.14" y="190.02" width="3.4" height="19.12" fill="#f23645"/><rect x="614.19" y="208.11" width="3.4" height="1.64" fill="#f23645"/><rect x="619.24" y="209.14" width="3.4" height="3.49" fill="#f23645"/><rect x="624.29" y="212.22" width="3.4" height="6.58" fill="#f23645"/><rect x="629.34" y="202.97" width="3.4" height="15.83" fill="#089981"/><rect x="634.39" y="187.14" width="3.4" height="16.44" fill="#089981"/><rect x="639.44" y="187.14" width="3.4" height="45.22" fill="#f23645"/><rect x="644.50" y="230.72" width="3.4" height="1.23" fill="#089981"/><rect x="649.55" y="217.98" width="3.4" height="13.98" fill="#089981"/><rect x="654.60" y="207.08" width="3.4" height="11.31" fill="#089981"/><rect x="659.65" y="206.46" width="3.4" height="2.06" fill="#089981"/><rect x="664.70" y="204.61" width="3.4" height="2.88" fill="#089981"/><rect x="669.75" y="191.66" width="3.4" height="13.36" fill="#089981"/><rect x="674.80" y="190.84" width="3.4" height="1.23" fill="#089981"/><rect x="679.85" y="191.05" width="3.4" height="2.67" fill="#f23645"/><rect x="684.90" y="189.20" width="3.4" height="4.93" fill="#089981"/><rect x="689.95" y="177.69" width="3.4" height="11.92" fill="#089981"/><rect x="695.00" y="177.69" width="3.4" height="9.46" fill="#f23645"/><rect x="700.05" y="185.09" width="3.4" height="1.64" fill="#089981"/><rect x="705.10" y="181.80" width="3.4" height="3.70" fill="#089981"/><rect x="710.15" y="181.80" width="3.4" height="2.06" fill="#f23645"/><rect x="715.20" y="183.03" width="3.4" height="2.88" fill="#f23645"/><rect x="720.25" y="181.80" width="3.4" height="3.70" fill="#089981"/><rect x="725.30" y="181.39" width="3.4" height="12.74" fill="#f23645"/><rect x="730.35" y="187.97" width="3.4" height="6.17" fill="#089981"/><rect x="735.40" y="185.09" width="3.4" height="3.49" fill="#089981"/><rect x="740.45" y="185.50" width="3.4" height="2.47" fill="#f23645"/><rect x="745.50" y="184.47" width="3.4" height="3.49" fill="#089981"/><rect x="750.55" y="180.83" width="3.4" height="4.11" fill="#089981"/><rect x="755.60" y="180.83" width="3.4" height="1.03" fill="#f23645"/><rect x="760.65" y="180.83" width="3.4" height="13.36" fill="#f23645"/><rect x="765.70" y="192.75" width="3.4" height="1.64" fill="#089981"/><rect x="770.75" y="193.17" width="3.4" height="5.14" fill="#f23645"/><rect x="775.80" y="197.69" width="3.4" height="4.73" fill="#f23645"/><rect x="780.85" y="192.75" width="3.4" height="10.28" fill="#089981"/><rect x="785.90" y="192.55" width="3.4" height="10.48" fill="#f23645"/><rect x="790.95" y="201.39" width="3.4" height="1.23" fill="#089981"/><rect x="796.00" y="201.80" width="3.4" height="3.70" fill="#f23645"/><rect x="801.05" y="205.09" width="3.4" height="6.17" fill="#f23645"/><rect x="806.10" y="210.02" width="3.4" height="3.29" fill="#f23645"/><rect x="811.15" y="207.14" width="3.4" height="6.17" fill="#089981"/><rect x="816.20" y="207.14" width="3.4" height="2.88" fill="#f23645"/><rect x="821.25" y="209.20" width="3.4" height="1.03" fill="#f23645"/><rect x="826.30" y="208.79" width="3.4" height="1.03" fill="#089981"/><rect x="831.35" y="206.53" width="3.4" height="3.49" fill="#089981"/><rect x="836.40" y="204.47" width="3.4" height="2.67" fill="#089981"/><rect x="841.45" y="204.47" width="3.4" height="7.19" fill="#f23645"/><rect x="846.50" y="201.39" width="3.4" height="10.28" fill="#089981"/><rect x="851.55" y="201.39" width="3.4" height="4.52" fill="#f23645"/><rect x="856.60" y="205.09" width="3.4" height="16.86" fill="#f23645"/><rect x="861.65" y="208.58" width="3.4" height="13.36" fill="#089981"/><rect x="866.70" y="208.17" width="3.4" height="1.03" fill="#f23645"/><rect x="871.75" y="205.91" width="3.4" height="3.29" fill="#089981"/><rect x="876.80" y="205.91" width="3.4" height="14.39" fill="#f23645"/><rect x="881.85" y="215.78" width="3.4" height="4.52" fill="#089981"/><rect x="886.90" y="215.78" width="3.4" height="1.23" fill="#f23645"/><rect x="891.96" y="214.13" width="3.4" height="3.29" fill="#089981"/><rect x="897.01" y="214.34" width="3.4" height="1.44" fill="#f23645"/><rect x="902.06" y="213.72" width="3.4" height="2.06" fill="#089981"/></g>
<line x1="8.5" y1="320.23" x2="960.3" y2="320.23" stroke="#787b86" stroke-opacity="0.55" stroke-width="1" stroke-dasharray="3.9 3.54" stroke-dashoffset="1.3"/>
<g clip-path="url(#plot)"><rect x="7.82" y="320.23" width="4.1" height="5.35" fill="#ff5252"/><rect x="12.87" y="320.23" width="4.1" height="7.80" fill="#ff5252"/><rect x="17.92" y="320.23" width="4.1" height="8.24" fill="#ff5252"/><rect x="22.97" y="320.23" width="4.1" height="8.24" fill="#ff5252"/><rect x="28.02" y="320.23" width="4.1" height="3.12" fill="#ffcdd2"/><rect x="33.07" y="320.23" width="4.1" height="6.68" fill="#ff5252"/><rect x="38.12" y="320.23" width="4.1" height="8.91" fill="#ff5252"/><rect x="43.17" y="320.23" width="4.1" height="9.35" fill="#ff5252"/><rect x="48.22" y="320.23" width="4.1" height="10.47" fill="#ff5252"/><rect x="53.27" y="320.23" width="4.1" height="7.13" fill="#ffcdd2"/><rect x="58.32" y="320.23" width="4.1" height="5.35" fill="#ffcdd2"/><rect x="63.37" y="320.23" width="4.1" height="6.24" fill="#ff5252"/><rect x="68.42" y="320.23" width="4.1" height="5.35" fill="#ffcdd2"/><rect x="73.47" y="320.23" width="4.1" height="4.90" fill="#ffcdd2"/><rect x="78.52" y="320.23" width="4.1" height="5.35" fill="#ff5252"/><rect x="83.57" y="320.23" width="4.1" height="5.79" fill="#ff5252"/><rect x="88.62" y="320.23" width="4.1" height="5.35" fill="#ffcdd2"/><rect x="93.67" y="320.23" width="4.1" height="4.90" fill="#ffcdd2"/><rect x="98.72" y="320.23" width="4.1" height="8.24" fill="#ff5252"/><rect x="103.77" y="320.23" width="4.1" height="17.82" fill="#ff5252"/><rect x="108.82" y="320.23" width="4.1" height="23.16" fill="#ff5252"/><rect x="113.87" y="320.23" width="4.1" height="26.73" fill="#ff5252"/><rect x="118.92" y="320.23" width="4.1" height="29.40" fill="#ff5252"/><rect x="123.97" y="320.23" width="4.1" height="30.51" fill="#ff5252"/><rect x="129.02" y="320.23" width="4.1" height="25.39" fill="#ffcdd2"/><rect x="134.07" y="320.23" width="4.1" height="23.83" fill="#ffcdd2"/><rect x="139.13" y="320.23" width="4.1" height="20.49" fill="#ffcdd2"/><rect x="144.18" y="320.23" width="4.1" height="15.59" fill="#ffcdd2"/><rect x="149.23" y="320.23" width="4.1" height="0.89" fill="#ffcdd2"/><rect x="154.28" y="311.33" width="4.1" height="8.91" fill="#26a69a"/><rect x="159.33" y="306.20" width="4.1" height="14.03" fill="#26a69a"/><rect x="164.38" y="302.42" width="4.1" height="17.82" fill="#26a69a"/><rect x="169.43" y="298.85" width="4.1" height="21.38" fill="#26a69a"/><rect x="174.48" y="299.08" width="4.1" height="21.16" fill="#b2dfdb"/><rect x="179.53" y="300.19" width="4.1" height="20.04" fill="#b2dfdb"/><rect x="184.58" y="300.63" width="4.1" height="19.60" fill="#b2dfdb"/><rect x="189.63" y="301.75" width="4.1" height="18.49" fill="#b2dfdb"/><rect x="194.68" y="305.53" width="4.1" height="14.70" fill="#b2dfdb"/><rect x="199.73" y="308.43" width="4.1" height="11.80" fill="#b2dfdb"/><rect x="204.78" y="311.10" width="4.1" height="9.13" fill="#b2dfdb"/><rect x="209.83" y="314.44" width="4.1" height="5.79" fill="#b2dfdb"/><rect x="214.88" y="320.23" width="4.1" height="1.11" fill="#ffcdd2"/><rect x="219.93" y="320.23" width="4.1" height="6.01" fill="#ff5252"/><rect x="224.98" y="320.23" width="4.1" height="8.69" fill="#ff5252"/><rect x="230.03" y="320.23" width="4.1" height="10.47" fill="#ff5252"/><rect x="235.08" y="320.23" width="4.1" height="12.25" fill="#ff5252"/><rect x="240.13" y="320.23" width="4.1" height="13.14" fill="#ff5252"/><rect x="245.18" y="320.23" width="4.1" height="14.92" fill="#ff5252"/><rect x="250.23" y="320.23" width="4.1" height="16.04" fill="#ff5252"/><rect x="255.28" y="320.23" width="4.1" height="14.92" fill="#ffcdd2"/><rect x="260.33" y="320.23" width="4.1" height="14.25" fill="#ffcdd2"/><rect x="265.38" y="320.23" width="4.1" height="12.69" fill="#ffcdd2"/><rect x="270.43" y="320.23" width="4.1" height="11.14" fill="#ffcdd2"/><rect x="275.48" y="320.23" width="4.1" height="8.91" fill="#ffcdd2"/><rect x="280.53" y="320.23" width="4.1" height="6.01" fill="#ffcdd2"/><rect x="285.58" y="320.23" width="4.1" height="3.12" fill="#ffcdd2"/><rect x="290.63" y="320.23" width="4.1" height="2.23" fill="#ffcdd2"/><rect x="295.68" y="320.23" width="4.1" height="1.11" fill="#ffcdd2"/><rect x="300.73" y="319.12" width="4.1" height="1.11" fill="#26a69a"/><rect x="305.78" y="314.67" width="4.1" height="5.57" fill="#26a69a"/><rect x="310.83" y="315.33" width="4.1" height="4.90" fill="#b2dfdb"/><rect x="315.88" y="314.00" width="4.1" height="6.24" fill="#26a69a"/><rect x="320.93" y="311.77" width="4.1" height="8.46" fill="#26a69a"/><rect x="325.98" y="309.54" width="4.1" height="10.69" fill="#26a69a"/><rect x="331.03" y="310.21" width="4.1" height="10.02" fill="#b2dfdb"/><rect x="336.08" y="311.10" width="4.1" height="9.13" fill="#b2dfdb"/><rect x="341.13" y="312.22" width="4.1" height="8.02" fill="#b2dfdb"/><rect x="346.18" y="314.00" width="4.1" height="6.24" fill="#b2dfdb"/><rect x="351.23" y="315.11" width="4.1" height="5.12" fill="#b2dfdb"/><rect x="356.28" y="315.78" width="4.1" height="4.45" fill="#b2dfdb"/><rect x="361.33" y="312.88" width="4.1" height="7.35" fill="#26a69a"/><rect x="366.38" y="309.54" width="4.1" height="10.69" fill="#26a69a"/><rect x="371.43" y="310.66" width="4.1" height="9.58" fill="#b2dfdb"/><rect x="376.48" y="313.55" width="4.1" height="6.68" fill="#b2dfdb"/><rect x="381.53" y="315.78" width="4.1" height="4.45" fill="#b2dfdb"/><rect x="386.59" y="318.45" width="4.1" height="1.78" fill="#b2dfdb"/><rect x="391.64" y="320.23" width="4.1" height="0.89" fill="#ffcdd2"/><rect x="396.69" y="320.23" width="4.1" height="1.56" fill="#ff5252"/><rect x="401.74" y="320.23" width="4.1" height="4.90" fill="#ff5252"/><rect x="406.79" y="320.23" width="4.1" height="9.35" fill="#ff5252"/><rect x="411.84" y="320.23" width="4.1" height="11.14" fill="#ff5252"/><rect x="416.89" y="320.23" width="4.1" height="11.58" fill="#ff5252"/><rect x="421.94" y="320.23" width="4.1" height="11.58" fill="#ff5252"/><rect x="426.99" y="320.23" width="4.1" height="10.47" fill="#ffcdd2"/><rect x="432.04" y="320.23" width="4.1" height="7.13" fill="#ffcdd2"/><rect x="437.09" y="320.23" width="4.1" height="4.90" fill="#ffcdd2"/><rect x="442.14" y="320.23" width="4.1" height="2.23" fill="#ffcdd2"/><rect x="447.19" y="319.79" width="4.1" height="0.50" fill="#26a69a"/><rect x="452.24" y="320.23" width="4.1" height="3.79" fill="#ff5252"/><rect x="457.29" y="320.23" width="4.1" height="3.12" fill="#ffcdd2"/><rect x="462.34" y="320.23" width="4.1" height="2.67" fill="#ffcdd2"/><rect x="467.39" y="320.23" width="4.1" height="0.89" fill="#ffcdd2"/><rect x="472.44" y="318.90" width="4.1" height="1.34" fill="#26a69a"/><rect x="477.49" y="317.78" width="4.1" height="2.45" fill="#26a69a"/><rect x="482.54" y="316.89" width="4.1" height="3.34" fill="#26a69a"/><rect x="487.59" y="317.34" width="4.1" height="2.90" fill="#b2dfdb"/><rect x="492.64" y="316.89" width="4.1" height="3.34" fill="#26a69a"/><rect x="497.69" y="316.89" width="4.1" height="3.34" fill="#26a69a"/><rect x="502.74" y="317.78" width="4.1" height="2.45" fill="#b2dfdb"/><rect x="507.79" y="319.12" width="4.1" height="1.11" fill="#b2dfdb"/><rect x="512.84" y="320.23" width="4.1" height="1.11" fill="#ff5252"/><rect x="517.89" y="320.23" width="4.1" height="2.23" fill="#ff5252"/><rect x="522.94" y="320.23" width="4.1" height="3.79" fill="#ff5252"/><rect x="527.99" y="320.23" width="4.1" height="1.78" fill="#ffcdd2"/><rect x="533.04" y="320.23" width="4.1" height="1.11" fill="#ffcdd2"/><rect x="538.09" y="320.23" width="4.1" height="0.89" fill="#ffcdd2"/><rect x="543.14" y="320.23" width="4.1" height="6.68" fill="#ff5252"/><rect x="548.19" y="320.23" width="4.1" height="11.14" fill="#ff5252"/><rect x="553.24" y="320.23" width="4.1" height="13.36" fill="#ff5252"/><rect x="558.29" y="320.23" width="4.1" height="16.04" fill="#ff5252"/><rect x="563.34" y="320.23" width="4.1" height="16.04" fill="#ff5252"/><rect x="568.39" y="320.23" width="4.1" height="10.91" fill="#ffcdd2"/><rect x="573.44" y="320.23" width="4.1" height="5.35" fill="#ffcdd2"/><rect x="578.49" y="320.23" width="4.1" height="3.12" fill="#ffcdd2"/><rect x="583.54" y="320.23" width="4.1" height="1.11" fill="#ffcdd2"/><rect x="588.59" y="318.90" width="4.1" height="1.34" fill="#26a69a"/><rect x="593.64" y="318.23" width="4.1" height="2.00" fill="#26a69a"/><rect x="598.69" y="318.23" width="4.1" height="2.00" fill="#26a69a"/><rect x="603.74" y="317.34" width="4.1" height="2.90" fill="#26a69a"/><rect x="608.79" y="320.23" width="4.1" height="2.00" fill="#ff5252"/><rect x="613.84" y="320.23" width="4.1" height="3.12" fill="#ff5252"/><rect x="618.89" y="320.23" width="4.1" height="4.45" fill="#ff5252"/><rect x="623.94" y="320.23" width="4.1" height="6.01" fill="#ff5252"/><rect x="628.99" y="320.23" width="4.1" height="3.12" fill="#ffcdd2"/><rect x="634.04" y="317.56" width="4.1" height="2.67" fill="#26a69a"/><rect x="639.10" y="320.23" width="4.1" height="3.12" fill="#ff5252"/><rect x="644.15" y="320.23" width="4.1" height="5.79" fill="#ff5252"/><rect x="649.20" y="320.23" width="4.1" height="4.45" fill="#ffcdd2"/><rect x="654.25" y="320.23" width="4.1" height="0.89" fill="#ffcdd2"/><rect x="659.30" y="317.56" width="4.1" height="2.67" fill="#26a69a"/><rect x="664.35" y="315.56" width="4.1" height="4.68" fill="#26a69a"/><rect x="669.40" y="311.10" width="4.1" height="9.13" fill="#26a69a"/><rect x="674.45" y="309.10" width="4.1" height="11.14" fill="#26a69a"/><rect x="679.50" y="307.76" width="4.1" height="12.47" fill="#26a69a"/><rect x="684.55" y="306.87" width="4.1" height="13.36" fill="#26a69a"/><rect x="689.60" y="303.98" width="4.1" height="16.26" fill="#26a69a"/><rect x="694.65" y="305.09" width="4.1" height="15.14" fill="#b2dfdb"/><rect x="699.70" y="305.98" width="4.1" height="14.25" fill="#b2dfdb"/><rect x="704.75" y="306.20" width="4.1" height="14.03" fill="#b2dfdb"/><rect x="709.80" y="307.32" width="4.1" height="12.92" fill="#b2dfdb"/><rect x="714.85" y="309.54" width="4.1" height="10.69" fill="#b2dfdb"/><rect x="719.90" y="310.66" width="4.1" height="9.58" fill="#b2dfdb"/><rect x="724.95" y="313.55" width="4.1" height="6.68" fill="#b2dfdb"/><rect x="730.00" y="315.78" width="4.1" height="4.45" fill="#b2dfdb"/><rect x="735.05" y="316.67" width="4.1" height="3.56" fill="#b2dfdb"/><rect x="740.10" y="317.78" width="4.1" height="2.45" fill="#b2dfdb"/><rect x="745.15" y="318.01" width="4.1" height="2.23" fill="#b2dfdb"/><rect x="750.20" y="316.89" width="4.1" height="3.34" fill="#26a69a"/><rect x="755.25" y="317.56" width="4.1" height="2.67" fill="#b2dfdb"/><rect x="760.30" y="319.79" width="4.1" height="0.50" fill="#b2dfdb"/><rect x="765.35" y="320.23" width="4.1" height="1.78" fill="#ff5252"/><rect x="770.40" y="320.23" width="4.1" height="3.34" fill="#ff5252"/><rect x="775.45" y="320.23" width="4.1" height="5.35" fill="#ff5252"/><rect x="780.50" y="320.23" width="4.1" height="3.79" fill="#ffcdd2"/><rect x="785.55" y="320.23" width="4.1" height="5.35" fill="#ff5252"/><rect x="790.60" y="320.23" width="4.1" height="6.01" fill="#ff5252"/><rect x="795.65" y="320.23" width="4.1" height="6.68" fill="#ff5252"/><rect x="800.70" y="320.23" width="4.1" height="7.80" fill="#ff5252"/><rect x="805.75" y="320.23" width="4.1" height="8.69" fill="#ff5252"/><rect x="810.80" y="320.23" width="4.1" height="7.13" fill="#ffcdd2"/><rect x="815.85" y="320.23" width="4.1" height="6.46" fill="#ffcdd2"/><rect x="820.90" y="320.23" width="4.1" height="5.57" fill="#ffcdd2"/><rect x="825.95" y="320.23" width="4.1" height="4.45" fill="#ffcdd2"/><rect x="831.00" y="320.23" width="4.1" height="2.67" fill="#ffcdd2"/><rect x="836.05" y="320.23" width="4.1" height="1.34" fill="#ffcdd2"/><rect x="841.10" y="320.23" width="4.1" height="1.78" fill="#ff5252"/><rect x="846.15" y="319.57" width="4.1" height="0.67" fill="#26a69a"/><rect x="851.20" y="318.67" width="4.1" height="1.56" fill="#26a69a"/><rect x="856.25" y="320.23" width="4.1" height="1.78" fill="#ff5252"/><rect x="861.30" y="320.23" width="4.1" height="0.67" fill="#ffcdd2"/><rect x="866.35" y="319.79" width="4.1" height="0.50" fill="#26a69a"/><rect x="871.40" y="318.67" width="4.1" height="1.56" fill="#26a69a"/><rect x="876.45" y="320.23" width="4.1" height="1.34" fill="#ff5252"/><rect x="881.50" y="320.23" width="4.1" height="1.34" fill="#ff5252"/><rect x="886.55" y="320.23" width="4.1" height="1.78" fill="#ff5252"/><rect x="891.61" y="320.23" width="4.1" height="0.89" fill="#ffcdd2"/><rect x="896.66" y="320.23" width="4.1" height="0.50" fill="#ffcdd2"/><rect x="901.71" y="320.01" width="4.1" height="0.50" fill="#26a69a"/></g>
<polyline fill="none" stroke="#2962ff" stroke-opacity="0.85" stroke-width="1.05" stroke-linejoin="round" stroke-linecap="round" points="9.87,283.26 14.92,287.27 19.97,290.61 25.02,292.17 30.07,289.05 35.12,293.51 40.17,297.29 45.22,300.63 50.27,303.53 55.32,303.31 60.37,302.19 65.42,303.98 70.47,305.09 75.52,305.76 80.57,307.32 85.62,309.10 90.67,309.54 95.72,310.66 100.77,316.22 105.82,328.47 110.87,339.61 115.92,349.63 120.97,359.65 126.02,369.68 131.07,372.35 136.12,375.24 141.18,377.03 146.23,375.24 151.28,360.77 156.33,349.63 161.38,341.84 166.43,331.82 171.48,323.35 176.53,318.45 181.58,315.11 186.63,310.66 191.68,305.09 196.73,303.31 201.78,303.53 206.83,305.09 211.88,307.32 216.93,314.44 221.98,320.68 227.03,325.58 232.08,330.26 237.13,334.71 242.18,338.94 247.23,344.06 252.28,348.52 257.33,351.41 262.38,354.09 267.43,355.87 272.48,356.98 277.53,357.87 282.58,357.43 287.63,353.42 292.68,352.97 297.73,351.86 302.78,349.19 307.83,343.40 312.88,342.95 317.93,339.61 322.98,335.16 328.03,331.15 333.08,329.14 338.13,327.36 343.18,326.25 348.23,326.25 353.28,325.80 358.33,325.13 363.38,320.23 368.43,315.11 373.48,312.88 378.53,314.00 383.58,314.44 388.64,316.67 393.69,319.57 398.74,321.12 403.79,325.58 408.84,332.26 413.89,336.71 418.94,340.28 423.99,342.95 429.04,343.62 434.09,342.28 439.14,340.72 444.19,338.94 449.24,336.71 454.29,341.39 459.34,342.06 464.39,342.06 469.44,340.28 474.49,337.83 479.54,335.82 484.59,334.04 489.64,333.37 494.69,332.26 499.74,331.37 504.79,331.37 509.84,332.93 514.89,334.71 519.94,336.27 524.99,338.50 530.04,338.05 535.09,337.83 540.14,337.83 545.19,344.06 550.24,351.41 555.29,356.76 560.34,363.00 565.39,367.00 570.44,365.22 575.49,361.21 580.54,359.21 585.59,356.98 590.64,354.53 595.69,352.97 600.74,352.31 605.79,351.86 610.84,356.31 615.89,358.54 620.94,361.21 625.99,363.44 631.04,361.88 636.09,355.42 641.14,361.88 646.20,365.67 651.25,365.22 656.30,361.88 661.35,358.10 666.40,354.09 671.45,347.41 676.50,341.84 681.55,337.38 686.60,332.93 691.65,326.25 696.70,322.91 701.75,319.57 706.80,316.89 711.85,315.11 716.90,314.44 721.95,313.55 727.00,315.11 732.05,315.56 737.10,315.56 742.15,315.33 747.20,314.67 752.25,313.55 757.30,312.44 762.35,315.78 767.40,318.45 772.45,320.68 777.50,324.02 782.55,324.02 787.60,326.69 792.65,328.47 797.70,331.15 802.75,333.60 807.80,335.82 812.85,336.27 817.90,336.94 822.95,337.38 828.00,337.38 833.05,336.27 838.10,335.38 843.15,335.82 848.20,333.60 853.25,332.26 858.30,335.82 863.35,334.93 868.40,334.04 873.45,332.26 878.50,335.16 883.55,335.60 888.60,336.27 893.66,335.82 898.71,335.16 903.76,334.49"/>
<polyline fill="none" stroke="#ff6d00" stroke-opacity="0.85" stroke-width="1.05" stroke-linejoin="round" stroke-linecap="round" points="9.87,278.81 14.92,281.04 19.97,283.26 25.02,285.04 30.07,286.16 35.12,287.94 40.17,289.94 45.22,292.39 50.27,294.62 55.32,296.18 60.37,297.74 65.42,299.08 70.47,300.19 75.52,301.30 80.57,302.42 85.62,303.98 90.67,305.09 95.72,306.20 100.77,308.43 105.82,312.88 110.87,318.45 115.92,325.13 120.97,331.82 126.02,340.72 131.07,347.41 136.12,352.97 141.18,357.43 146.23,360.77 151.28,360.77 156.33,358.54 161.38,355.20 166.43,350.75 171.48,345.18 176.53,339.61 181.58,334.04 186.63,328.47 191.68,323.35 196.73,320.01 201.78,316.67 206.83,314.44 211.88,313.11 216.93,313.33 221.98,314.67 227.03,316.67 232.08,319.12 237.13,322.24 242.18,325.58 247.23,329.59 252.28,333.60 257.33,337.38 262.38,340.72 267.43,344.06 272.48,346.74 277.53,348.52 282.58,349.86 287.63,350.52 292.68,350.97 297.73,351.19 302.78,350.75 307.83,349.63 312.88,348.07 317.93,346.29 322.98,344.06 328.03,341.39 333.08,339.16 338.13,336.71 343.18,334.71 348.23,332.93 353.28,331.15 358.33,329.59 363.38,327.36 368.43,324.69 373.48,322.46 378.53,320.68 383.58,320.68 388.64,319.57 393.69,319.12 398.74,319.57 403.79,320.68 408.84,323.35 413.89,326.25 418.94,329.14 423.99,331.37 429.04,333.60 434.09,335.16 439.14,336.27 444.19,336.71 449.24,336.94 454.29,337.83 459.34,338.72 464.39,339.39 469.44,339.61 474.49,339.16 479.54,338.50 484.59,337.61 489.64,336.71 494.69,335.82 499.74,334.71 504.79,334.27 509.84,334.04 514.89,334.27 519.94,334.71 524.99,335.38 530.04,336.05 535.09,336.27 540.14,336.49 545.19,338.05 550.24,340.72 555.29,344.06 560.34,347.85 565.39,351.86 570.44,354.31 575.49,355.65 580.54,356.31 585.59,356.31 590.64,355.65 595.69,354.98 600.74,354.53 605.79,354.31 610.84,354.76 615.89,355.65 620.94,356.76 625.99,357.87 631.04,358.32 636.09,358.10 641.14,358.99 646.20,360.32 651.25,361.21 656.30,361.21 661.35,360.32 666.40,358.54 671.45,355.87 676.50,352.53 681.55,348.96 686.60,345.18 691.65,341.17 696.70,337.38 701.75,333.60 706.80,330.26 711.85,327.36 716.90,324.69 721.95,322.46 727.00,321.12 732.05,320.01 737.10,319.12 742.15,318.45 747.20,317.78 752.25,316.89 757.30,316.22 762.35,316.22 767.40,316.89 772.45,317.78 777.50,318.90 782.55,320.23 787.60,321.35 792.65,322.46 797.70,324.02 802.75,325.58 807.80,327.36 812.85,329.14 817.90,330.70 822.95,331.82 828.00,332.93 833.05,333.60 838.10,334.04 843.15,334.27 848.20,334.27 853.25,334.04 858.30,334.27 863.35,334.49 868.40,334.27 873.45,334.04 878.50,334.27 883.55,334.49 888.60,334.93 893.66,334.93 898.71,334.71 903.76,334.49"/>
<defs><linearGradient id="os" gradientUnits="userSpaceOnUse" x1="0" y1="482.4" x2="0" y2="506"><stop offset="0" stop-color="#ff5252" stop-opacity="0"/><stop offset="1" stop-color="#ff5252" stop-opacity="0.4"/></linearGradient><clipPath id="below30"><rect x="0" y="482.4" width="1024" height="40"/></clipPath></defs>
<g clip-path="url(#below30)"><polygon fill="url(#os)" points="9.87,482.40 9.87,429.20 14.92,435.22 19.97,431.88 25.02,431.43 30.07,416.95 35.12,438.11 40.17,441.45 45.22,438.78 50.27,440.78 55.32,430.32 60.37,428.09 65.42,437.44 70.47,435.44 75.52,433.66 80.57,436.55 85.62,441.45 90.67,438.11 95.72,435.88 100.77,454.82 105.82,482.65 110.87,479.31 115.92,483.77 120.97,489.34 126.02,491.56 131.07,475.31 136.12,477.09 141.18,477.76 146.23,468.18 151.28,428.76 156.33,424.75 161.38,431.43 166.43,425.42 171.48,421.85 176.53,426.98 181.58,429.87 186.63,424.75 191.68,421.85 196.73,422.97 201.78,432.54 206.83,440.34 211.88,439.67 216.93,458.16 221.98,458.60 227.03,459.94 232.08,459.27 237.13,466.40 242.18,463.28 247.23,474.41 252.28,475.31 257.33,473.08 262.38,475.31 267.43,474.41 272.48,474.86 277.53,476.42 282.58,472.19 287.63,448.80 292.68,464.17 297.73,462.16 302.78,451.47 307.83,435.88 312.88,452.59 317.93,441.45 322.98,435.88 328.03,434.77 333.08,441.01 338.13,440.34 343.18,442.57 348.23,444.12 353.28,447.69 358.33,443.68 363.38,422.52 368.43,416.29 373.48,430.32 378.53,440.78 383.58,440.34 388.64,446.35 393.69,450.36 398.74,447.02 403.79,461.05 408.84,473.08 413.89,468.85 418.94,468.18 423.99,472.19 429.04,463.28 434.09,450.81 439.14,451.47 444.19,448.13 449.24,445.46 454.29,471.52 459.34,458.60 464.39,455.93 469.44,448.58 474.49,445.46 479.54,443.23 484.59,444.79 489.64,449.92 494.69,448.13 499.74,447.02 504.79,450.36 509.84,460.38 514.89,464.84 519.94,466.40 524.99,471.07 530.04,457.49 535.09,457.71 540.14,462.61 545.19,487.11 550.24,494.90 555.29,493.35 560.34,499.36 565.39,497.13 570.44,465.95 575.49,454.82 580.54,460.38 585.59,459.27 590.64,461.05 595.69,461.94 600.74,465.95 605.79,466.62 610.84,483.32 615.89,484.21 620.94,486.44 625.99,490.45 631.04,465.95 636.09,443.68 641.14,477.09 646.20,476.42 651.25,462.61 656.30,452.59 661.35,451.03 666.40,448.80 671.45,437.44 676.50,437.00 681.55,439.22 686.60,435.22 691.65,424.75 696.70,434.33 701.75,432.54 706.80,429.65 711.85,431.43 716.90,433.66 721.95,430.32 727.00,444.12 732.05,438.78 737.10,436.55 742.15,437.44 747.20,433.66 752.25,429.87 757.30,430.32 762.35,448.80 767.40,447.69 772.45,454.15 777.50,459.71 782.55,444.79 787.60,456.37 792.65,455.26 797.70,460.38 802.75,465.51 807.80,468.62 812.85,458.16 817.90,461.05 822.95,461.50 828.00,461.05 833.05,454.82 838.10,451.03 843.15,461.05 848.20,442.57 853.25,448.58 858.30,469.29 863.35,449.25 868.40,449.25 873.45,445.24 878.50,461.05 883.55,456.60 888.60,457.49 893.66,452.59 898.71,454.37 903.76,452.14 903.76,482.40"/></g>
<polyline fill="none" stroke="#f9d949" stroke-opacity="0.9" stroke-width="1.35" stroke-linejoin="round" stroke-linecap="round" points="9.87,423.63 14.92,424.75 19.97,425.86 25.02,426.31 30.07,426.53 35.12,426.98 40.17,427.64 45.22,429.20 50.27,430.32 55.32,431.21 60.37,431.65 65.42,432.10 70.47,432.54 75.52,433.21 80.57,434.10 85.62,434.55 90.67,434.77 95.72,435.44 100.77,438.11 105.82,442.12 110.87,445.91 115.92,449.92 120.97,454.15 126.02,457.49 131.07,460.38 136.12,463.28 141.18,465.51 146.23,466.62 151.28,466.40 156.33,465.51 161.38,464.84 166.43,464.17 171.48,462.16 176.53,459.27 181.58,455.93 186.63,451.92 191.68,446.35 196.73,441.01 201.78,437.00 206.83,433.66 211.88,430.98 216.93,430.32 221.98,432.10 227.03,434.77 232.08,437.00 237.13,439.89 242.18,443.23 247.23,447.02 252.28,450.81 257.33,454.37 262.38,458.16 267.43,461.50 272.48,464.17 277.53,466.40 282.58,467.73 287.63,468.18 292.68,468.40 297.73,468.62 302.78,468.18 307.83,465.95 312.88,465.06 317.93,462.61 322.98,459.71 328.03,457.04 333.08,454.37 338.13,452.14 343.18,449.92 348.23,447.69 353.28,446.35 358.33,445.02 363.38,442.12 368.43,439.22 373.48,438.11 378.53,437.67 383.58,437.44 388.64,437.89 393.69,439.22 398.74,440.34 403.79,441.90 408.84,444.12 413.89,446.35 418.94,448.13 423.99,449.92 429.04,451.92 434.09,453.70 439.14,455.26 444.19,455.93 449.24,457.04 454.29,458.82 459.34,459.49 464.39,459.71 469.44,459.27 474.49,457.71 479.54,455.93 484.59,454.37 489.64,453.03 494.69,451.47 499.74,450.81 504.79,451.25 509.84,452.14 514.89,453.03 519.94,453.92 524.99,453.92 530.04,453.92 535.09,454.37 540.14,455.93 545.19,459.27 550.24,463.72 555.29,467.06 560.34,470.41 565.39,472.63 570.44,473.75 575.49,473.97 580.54,473.75 585.59,473.30 590.64,472.86 595.69,472.19 600.74,473.08 605.79,474.19 610.84,474.86 615.89,474.86 620.94,474.41 625.99,473.97 631.04,471.52 636.09,467.73 641.14,468.62 646.20,470.41 651.25,470.41 656.30,469.74 661.35,468.62 666.40,466.62 671.45,464.17 676.50,461.05 681.55,457.49 686.60,453.26 691.65,449.92 696.70,447.02 701.75,445.91 706.80,443.68 711.85,441.45 716.90,438.78 721.95,437.00 727.00,436.11 732.05,435.44 737.10,434.77 742.15,434.77 747.20,434.33 752.25,433.66 757.30,433.88 762.35,435.22 767.40,436.33 772.45,438.11 777.50,440.34 782.55,441.45 787.60,443.23 792.65,444.79 797.70,446.57 802.75,448.80 807.80,450.81 812.85,453.03 817.90,455.26 822.95,457.04 828.00,457.71 833.05,457.93 838.10,458.16 843.15,457.93 848.20,457.49 853.25,457.71 858.30,458.38 863.35,457.93 868.40,457.04 873.45,455.71 878.50,455.26 883.55,455.26 888.60,454.82 893.66,454.37 898.71,453.70 903.76,453.26"/>
<polyline fill="none" stroke="#7e57c2" stroke-opacity="0.85" stroke-width="1.15" stroke-linejoin="round" stroke-linecap="round" points="9.87,429.20 14.92,435.22 19.97,431.88 25.02,431.43 30.07,416.95 35.12,438.11 40.17,441.45 45.22,438.78 50.27,440.78 55.32,430.32 60.37,428.09 65.42,437.44 70.47,435.44 75.52,433.66 80.57,436.55 85.62,441.45 90.67,438.11 95.72,435.88 100.77,454.82 105.82,482.65 110.87,479.31 115.92,483.77 120.97,489.34 126.02,491.56 131.07,475.31 136.12,477.09 141.18,477.76 146.23,468.18 151.28,428.76 156.33,424.75 161.38,431.43 166.43,425.42 171.48,421.85 176.53,426.98 181.58,429.87 186.63,424.75 191.68,421.85 196.73,422.97 201.78,432.54 206.83,440.34 211.88,439.67 216.93,458.16 221.98,458.60 227.03,459.94 232.08,459.27 237.13,466.40 242.18,463.28 247.23,474.41 252.28,475.31 257.33,473.08 262.38,475.31 267.43,474.41 272.48,474.86 277.53,476.42 282.58,472.19 287.63,448.80 292.68,464.17 297.73,462.16 302.78,451.47 307.83,435.88 312.88,452.59 317.93,441.45 322.98,435.88 328.03,434.77 333.08,441.01 338.13,440.34 343.18,442.57 348.23,444.12 353.28,447.69 358.33,443.68 363.38,422.52 368.43,416.29 373.48,430.32 378.53,440.78 383.58,440.34 388.64,446.35 393.69,450.36 398.74,447.02 403.79,461.05 408.84,473.08 413.89,468.85 418.94,468.18 423.99,472.19 429.04,463.28 434.09,450.81 439.14,451.47 444.19,448.13 449.24,445.46 454.29,471.52 459.34,458.60 464.39,455.93 469.44,448.58 474.49,445.46 479.54,443.23 484.59,444.79 489.64,449.92 494.69,448.13 499.74,447.02 504.79,450.36 509.84,460.38 514.89,464.84 519.94,466.40 524.99,471.07 530.04,457.49 535.09,457.71 540.14,462.61 545.19,487.11 550.24,494.90 555.29,493.35 560.34,499.36 565.39,497.13 570.44,465.95 575.49,454.82 580.54,460.38 585.59,459.27 590.64,461.05 595.69,461.94 600.74,465.95 605.79,466.62 610.84,483.32 615.89,484.21 620.94,486.44 625.99,490.45 631.04,465.95 636.09,443.68 641.14,477.09 646.20,476.42 651.25,462.61 656.30,452.59 661.35,451.03 666.40,448.80 671.45,437.44 676.50,437.00 681.55,439.22 686.60,435.22 691.65,424.75 696.70,434.33 701.75,432.54 706.80,429.65 711.85,431.43 716.90,433.66 721.95,430.32 727.00,444.12 732.05,438.78 737.10,436.55 742.15,437.44 747.20,433.66 752.25,429.87 757.30,430.32 762.35,448.80 767.40,447.69 772.45,454.15 777.50,459.71 782.55,444.79 787.60,456.37 792.65,455.26 797.70,460.38 802.75,465.51 807.80,468.62 812.85,458.16 817.90,461.05 822.95,461.50 828.00,461.05 833.05,454.82 838.10,451.03 843.15,461.05 848.20,442.57 853.25,448.58 858.30,469.29 863.35,449.25 868.40,449.25 873.45,445.24 878.50,461.05 883.55,456.60 888.60,457.49 893.66,452.59 898.71,454.37 903.76,452.14"/>
<g transform="translate(903.95,254.5)"><circle r="8.35" fill="#fff" stroke="#9c27b0" stroke-width="1.4"/><path d="M2.8,-4.6 L-4.0,0.55 L-0.5,0.55 L-2.9,4.3 L3.6,-0.75 L0.35,-0.75 Z" fill="#9c27b0"/></g>
<text x="8.45" y="16.6" font-size="10.2" fill="#26282e" text-anchor="start" font-weight="normal" stroke="#26282e" stroke-width="0.22" textLength="56.10" lengthAdjust="spacingAndGlyphs" >bevahmutha</text><text x="67.35" y="16.6" font-size="10.2" fill="#26282e" text-anchor="start" font-weight="normal" stroke="#26282e" stroke-width="0.22" textLength="34.20" lengthAdjust="spacingAndGlyphs" >created</text><text x="104.55" y="16.6" font-size="10.2" fill="#26282e" text-anchor="start" font-weight="normal" stroke="#26282e" stroke-width="0.22" textLength="20.40" lengthAdjust="spacingAndGlyphs" >with</text><text x="128.75" y="16.6" font-size="10.2" fill="#26282e" text-anchor="start" font-weight="normal" stroke="#26282e" stroke-width="0.22" textLength="78.60" lengthAdjust="spacingAndGlyphs" >TradingView.com,</text><text x="211.45" y="16.6" font-size="10.2" fill="#26282e" text-anchor="start" font-weight="normal" stroke="#26282e" stroke-width="0.22" textLength="16.80" lengthAdjust="spacingAndGlyphs" >Dec</text><text x="230.95" y="16.6" font-size="10.2" fill="#26282e" text-anchor="start" font-weight="normal" stroke="#26282e" stroke-width="0.22" textLength="14.20" lengthAdjust="spacingAndGlyphs" >27,</text><text x="248.15" y="16.6" font-size="10.2" fill="#26282e" text-anchor="start" font-weight="normal" stroke="#26282e" stroke-width="0.22" textLength="20.70" lengthAdjust="spacingAndGlyphs" >2025</text><text x="273.95" y="16.6" font-size="10.2" fill="#26282e" text-anchor="start" font-weight="normal" stroke="#26282e" stroke-width="0.22" textLength="22.00" lengthAdjust="spacingAndGlyphs" >10:01</text><text x="300.45" y="16.6" font-size="10.2" fill="#26282e" text-anchor="start" font-weight="normal" stroke="#26282e" stroke-width="0.22" textLength="18.10" lengthAdjust="spacingAndGlyphs" >UTC</text>
<text x="15.45" y="39.7" font-size="10.3" fill="#26282e" text-anchor="start" font-weight="normal" stroke="#26282e" stroke-width="0.22" textLength="16.10" lengthAdjust="spacingAndGlyphs" >XRP</text><text x="38.35" y="39.7" font-size="10.3" fill="#26282e" text-anchor="middle" font-weight="normal" stroke="#26282e" stroke-width="0.22" >/</text><text x="44.35" y="39.7" font-size="10.3" fill="#26282e" text-anchor="start" font-weight="normal" stroke="#26282e" stroke-width="0.22" textLength="40.30" lengthAdjust="spacingAndGlyphs" >TetherUS</text><text x="89.10" y="39.7" font-size="10.3" fill="#26282e" text-anchor="middle" font-weight="normal" stroke="#26282e" stroke-width="0.22" >·</text><text x="93.55" y="39.7" font-size="10.3" fill="#26282e" text-anchor="start" font-weight="normal" stroke="#26282e" stroke-width="0.22" textLength="12.00" lengthAdjust="spacingAndGlyphs" >4h</text><text x="110.00" y="39.7" font-size="10.3" fill="#26282e" text-anchor="middle" font-weight="normal" stroke="#26282e" stroke-width="0.22" >·</text><text x="114.65" y="39.7" font-size="10.3" fill="#26282e" text-anchor="start" font-weight="normal" stroke="#26282e" stroke-width="0.22" textLength="35.40" lengthAdjust="spacingAndGlyphs" >Binance</text><text x="156.45" y="39.7" font-size="10.3" fill="#26282e" text-anchor="start" font-weight="normal" stroke="#26282e" stroke-width="0.22" textLength="7.30" lengthAdjust="spacingAndGlyphs" >O</text><text x="164.15" y="39.7" font-size="10.3" fill="#089981" text-anchor="start" font-weight="normal" stroke="#089981" stroke-width="0.22" textLength="29.50" lengthAdjust="spacingAndGlyphs" >1.8478</text><text x="199.35" y="39.7" font-size="10.3" fill="#26282e" text-anchor="start" font-weight="normal" stroke="#26282e" stroke-width="0.22" textLength="6.30" lengthAdjust="spacingAndGlyphs" >H</text><text x="205.85" y="39.7" font-size="10.3" fill="#089981" text-anchor="start" font-weight="normal" stroke="#089981" stroke-width="0.22" textLength="30.60" lengthAdjust="spacingAndGlyphs" >1.8560</text><text x="242.55" y="39.7" font-size="10.3" fill="#26282e" text-anchor="start" font-weight="normal" stroke="#26282e" stroke-width="0.22" textLength="4.90" lengthAdjust="spacingAndGlyphs" >L</text><text x="247.75" y="39.7" font-size="10.3" fill="#089981" text-anchor="start" font-weight="normal" stroke="#089981" stroke-width="0.22" textLength="29.40" lengthAdjust="spacingAndGlyphs" >1.8477</text><text x="283.75" y="39.7" font-size="10.3" fill="#26282e" text-anchor="start" font-weight="normal" stroke="#26282e" stroke-width="0.22" textLength="6.30" lengthAdjust="spacingAndGlyphs" >C</text><text x="290.55" y="39.7" font-size="10.3" fill="#089981" text-anchor="start" font-weight="normal" stroke="#089981" stroke-width="0.22" textLength="29.60" lengthAdjust="spacingAndGlyphs" >1.8507</text><text x="326.25" y="39.7" font-size="10.3" fill="#089981" text-anchor="start" font-weight="normal" stroke="#089981" stroke-width="0.22" textLength="35.70" lengthAdjust="spacingAndGlyphs" >+0.0030</text><text x="366.05" y="39.7" font-size="10.3" fill="#089981" text-anchor="start" font-weight="normal" stroke="#089981" stroke-width="0.22" textLength="37.00" lengthAdjust="spacingAndGlyphs" >(+0.16%)</text>
<text x="15.45" y="53.5" font-size="10.3" fill="#26282e" text-anchor="start" font-weight="normal" stroke="#26282e" stroke-width="0.22" textLength="13.60" lengthAdjust="spacingAndGlyphs" >Vol</text><text x="33.80" y="53.5" font-size="10.3" fill="#26282e" text-anchor="middle" font-weight="normal" stroke="#26282e" stroke-width="0.22" >·</text><text x="38.45" y="53.5" font-size="10.3" fill="#26282e" text-anchor="start" font-weight="normal" stroke="#26282e" stroke-width="0.22" textLength="17.30" lengthAdjust="spacingAndGlyphs" >XRP</text><text x="61.85" y="53.5" font-size="10.3" fill="#26a69a" text-anchor="start" font-weight="normal" stroke="#26a69a" stroke-width="0.22" textLength="19.60" lengthAdjust="spacingAndGlyphs" >2.41</text><text x="82.75" y="53.5" font-size="10.3" fill="#26a69a" text-anchor="start" font-weight="normal" stroke="#26a69a" stroke-width="0.22" textLength="8.20" lengthAdjust="spacingAndGlyphs" >M</text>
<text x="15.45" y="283.0" font-size="10.3" fill="#26282e" text-anchor="start" font-weight="normal" stroke="#26282e" stroke-width="0.22" textLength="25.50" lengthAdjust="spacingAndGlyphs" >MACD</text><text x="44.25" y="283.0" font-size="10.3" fill="#26282e" text-anchor="start" font-weight="normal" stroke="#26282e" stroke-width="0.22" textLength="29.00" lengthAdjust="spacingAndGlyphs" >(close,</text><text x="77.95" y="283.0" font-size="10.3" fill="#26282e" text-anchor="start" font-weight="normal" stroke="#26282e" stroke-width="0.22" textLength="11.70" lengthAdjust="spacingAndGlyphs" >12,</text><text x="95.05" y="283.0" font-size="10.3" fill="#26282e" text-anchor="start" font-weight="normal" stroke="#26282e" stroke-width="0.22" textLength="12.70" lengthAdjust="spacingAndGlyphs" >26,</text><text x="112.15" y="283.0" font-size="10.3" fill="#26282e" text-anchor="start" font-weight="normal" stroke="#26282e" stroke-width="0.22" textLength="8.50" lengthAdjust="spacingAndGlyphs" >9)</text><text x="126.75" y="283.0" font-size="10.3" fill="#26a69a" text-anchor="start" font-weight="normal" stroke="#26a69a" stroke-width="0.22" textLength="30.90" lengthAdjust="spacingAndGlyphs" >0.0003</text><text x="163.75" y="283.0" font-size="10.3" fill="#2962ff" text-anchor="start" font-weight="normal" stroke="#2962ff" stroke-width="0.22" textLength="34.90" lengthAdjust="spacingAndGlyphs" >−0.0112</text><text x="205.25" y="283.0" font-size="10.3" fill="#ff6d00" text-anchor="start" font-weight="normal" stroke="#ff6d00" stroke-width="0.22" textLength="35.30" lengthAdjust="spacingAndGlyphs" >−0.0115</text>
<text x="15.45" y="404.9" font-size="10.3" fill="#26282e" text-anchor="start" font-weight="normal" stroke="#26282e" stroke-width="0.22" textLength="13.80" lengthAdjust="spacingAndGlyphs" >RSI</text><text x="32.55" y="404.9" font-size="10.3" fill="#26282e" text-anchor="start" font-weight="normal" stroke="#26282e" stroke-width="0.22" textLength="16.60" lengthAdjust="spacingAndGlyphs" >(14,</text><text x="53.65" y="404.9" font-size="10.3" fill="#26282e" text-anchor="start" font-weight="normal" stroke="#26282e" stroke-width="0.22" textLength="25.90" lengthAdjust="spacingAndGlyphs" >close)</text><text x="85.75" y="404.9" font-size="10.3" fill="#7e57c2" text-anchor="start" font-weight="normal" stroke="#7e57c2" stroke-width="0.22" textLength="25.50" lengthAdjust="spacingAndGlyphs" >44.70</text><text x="116.85" y="404.9" font-size="10.3" fill="#f5d84e" text-anchor="start" font-weight="normal" stroke="#f5d84e" stroke-width="0.22" textLength="25.30" lengthAdjust="spacingAndGlyphs" >43.98</text>
<text x="968.0" y="41.15" font-size="10.3" fill="#26282e" text-anchor="start" font-weight="normal" stroke="#26282e" stroke-width="0.22" textLength="30.6" lengthAdjust="spacing" >2.3000</text>
<text x="968.0" y="119.75" font-size="10.3" fill="#26282e" text-anchor="start" font-weight="normal" stroke="#26282e" stroke-width="0.22" textLength="30.6" lengthAdjust="spacing" >2.1000</text>
<text x="968.0" y="198.65" font-size="10.3" fill="#26282e" text-anchor="start" font-weight="normal" stroke="#26282e" stroke-width="0.22" textLength="30.6" lengthAdjust="spacing" >1.9000</text>
<text x="967.6" y="386.15" font-size="10.3" fill="#26282e" text-anchor="start" font-weight="normal" stroke="#26282e" stroke-width="0.22" textLength="36.0" lengthAdjust="spacing" >−0.0500</text>
<text x="967.3" y="424.95" font-size="10.3" fill="#26282e" text-anchor="start" font-weight="normal" stroke="#26282e" stroke-width="0.22" textLength="25.8" lengthAdjust="spacing" >60.00</text>
<text x="967.3" y="506.75" font-size="10.3" fill="#26282e" text-anchor="start" font-weight="normal" stroke="#26282e" stroke-width="0.22" textLength="25.8" lengthAdjust="spacing" >20.00</text>
<rect x="960.8" y="69.9" width="41.4" height="13.8" fill="#2c2c2e" rx="1.5"/><text x="968.0" y="80.75" font-size="10.3" fill="#fff" text-anchor="start" font-weight="normal" stroke="#fff" stroke-width="0.22" textLength="30.6" lengthAdjust="spacing" >2.2000</text>
<rect x="960.8" y="149.1" width="41.4" height="13.6" fill="#2c2c2e" rx="1.5"/><text x="968.0" y="159.85" font-size="10.3" fill="#fff" text-anchor="start" font-weight="normal" stroke="#fff" stroke-width="0.22" textLength="30.6" lengthAdjust="spacing" >2.0000</text>
<rect x="960.8" y="207.2" width="50.9" height="25.8" fill="#089981" rx="1.5"/>
<text x="968.3" y="218.2" font-size="10.3" fill="#fff" text-anchor="start" font-weight="normal" stroke="#fff" stroke-width="0.22" textLength="30.6" lengthAdjust="spacing" >1.8507</text>
<text x="967.5" y="230.2" font-size="10.3" fill="#e6f5f2" text-anchor="start" font-weight="normal" stroke="#e6f5f2" stroke-width="0.22" textLength="40.2" lengthAdjust="spacing" >01:58:48</text>
<rect x="960.8" y="233.9" width="41.2" height="13.5" fill="#2c2c2e" rx="1.5"/><text x="968.2" y="244.60" font-size="10.3" fill="#fff" text-anchor="start" font-weight="normal" stroke="#fff" stroke-width="0.22" textLength="30.6" lengthAdjust="spacing" >1.8000</text>
<rect x="960.8" y="251.6" width="39.2" height="14.1" fill="#26a69a" rx="1.5"/><text x="968.2" y="262.60" font-size="10.3" fill="#fff" text-anchor="start" font-weight="normal" stroke="#fff" stroke-width="0.22" textLength="29.4" lengthAdjust="spacing" >2.41 M</text>
<rect x="960.8" y="313.5" width="41.3" height="14.1" fill="#26a69a" rx="1.5"/><text x="967.8" y="324.50" font-size="10.3" fill="#fff" text-anchor="start" font-weight="normal" stroke="#fff" stroke-width="0.22" textLength="30.6" lengthAdjust="spacing" >0.0003</text>
<rect x="960.8" y="327.6" width="47.7" height="14.1" fill="#2962ff" rx="1.5"/><text x="968.2" y="339.10" font-size="10.3" fill="#fff" text-anchor="start" font-weight="normal" stroke="#fff" stroke-width="0.22" textLength="36.2" lengthAdjust="spacing" >−0.0112</text>
<rect x="960.8" y="341.8" width="47.7" height="14.1" fill="#ff6d00" rx="1.5"/><text x="968.2" y="352.80" font-size="10.3" fill="#fff" text-anchor="start" font-weight="normal" stroke="#fff" stroke-width="0.22" textLength="36.2" lengthAdjust="spacing" >−0.0115</text>
<rect x="960.8" y="445.4" width="35.9" height="14.0" fill="#7e57c2" rx="1.5"/><text x="967.9" y="456.35" font-size="10.3" fill="#fff" text-anchor="start" font-weight="normal" stroke="#fff" stroke-width="0.22" textLength="25.8" lengthAdjust="spacing" >44.70</text>
<rect x="960.8" y="459.5" width="35.9" height="14.0" fill="#fdd835" rx="1.5"/><text x="967.9" y="470.45" font-size="10.3" fill="#131722" text-anchor="start" font-weight="normal" stroke="#131722" stroke-width="0.22" textLength="25.8" lengthAdjust="spacing" >43.98</text>
<text x="14.90" y="525.6" font-size="10.3" fill="#26282e" text-anchor="middle" font-weight="normal" stroke="#26282e" stroke-width="0.22" >28</text>
<text x="97.22" y="525.6" font-size="10.3" fill="#26282e" text-anchor="start" font-weight="bold" stroke="#26282e" stroke-width="0.22" textLength="16.6" lengthAdjust="spacing" >Dec</text>
<text x="166.43" y="525.6" font-size="10.3" fill="#26282e" text-anchor="middle" font-weight="normal" stroke="#26282e" stroke-width="0.22" >3</text>
<text x="227.03" y="525.6" font-size="10.3" fill="#26282e" text-anchor="middle" font-weight="normal" stroke="#26282e" stroke-width="0.22" >5</text>
<text x="287.63" y="525.6" font-size="10.3" fill="#26282e" text-anchor="middle" font-weight="normal" stroke="#26282e" stroke-width="0.22" >7</text>
<text x="348.23" y="525.6" font-size="10.3" fill="#26282e" text-anchor="middle" font-weight="normal" stroke="#26282e" stroke-width="0.22" >9</text>
<text x="408.84" y="525.6" font-size="10.3" fill="#26282e" text-anchor="middle" font-weight="normal" stroke="#26282e" stroke-width="0.22" >11</text>
<text x="469.44" y="525.6" font-size="10.3" fill="#26282e" text-anchor="middle" font-weight="normal" stroke="#26282e" stroke-width="0.22" >13</text>
<text x="530.04" y="525.6" font-size="10.3" fill="#26282e" text-anchor="middle" font-weight="normal" stroke="#26282e" stroke-width="0.22" >15</text>
<text x="590.64" y="525.6" font-size="10.3" fill="#26282e" text-anchor="middle" font-weight="normal" stroke="#26282e" stroke-width="0.22" >17</text>
<text x="651.25" y="525.6" font-size="10.3" fill="#26282e" text-anchor="middle" font-weight="normal" stroke="#26282e" stroke-width="0.22" >19</text>
<text x="711.85" y="525.6" font-size="10.3" fill="#26282e" text-anchor="middle" font-weight="normal" stroke="#26282e" stroke-width="0.22" >21</text>
<text x="772.45" y="525.6" font-size="10.3" fill="#26282e" text-anchor="middle" font-weight="normal" stroke="#26282e" stroke-width="0.22" >23</text>
<text x="833.05" y="525.6" font-size="10.3" fill="#26282e" text-anchor="middle" font-weight="normal" stroke="#26282e" stroke-width="0.22" >25</text>
<text x="893.66" y="525.6" font-size="10.3" fill="#26282e" text-anchor="middle" font-weight="normal" stroke="#26282e" stroke-width="0.22" >27</text>
<text x="954.26" y="525.6" font-size="10.3" fill="#26282e" text-anchor="middle" font-weight="normal" stroke="#26282e" stroke-width="0.22" >29</text>
<g fill="#131722"><path d="M10.3,552.2 H20 V564.4 H15.2 V557.3 H10.3 Z"/><circle cx="24.5" cy="554.45" r="2.25"/><path d="M28.8,552.2 H35.3 L31.2,564.4 H24.9 Z"/></g>
<text x="41.5" y="564.4" font-size="17.0" fill="#131722" text-anchor="start" font-weight="bold" stroke="#131722" stroke-width="0.22" textLength="102" lengthAdjust="spacing" >TradingView</text>
</svg></body></html>
